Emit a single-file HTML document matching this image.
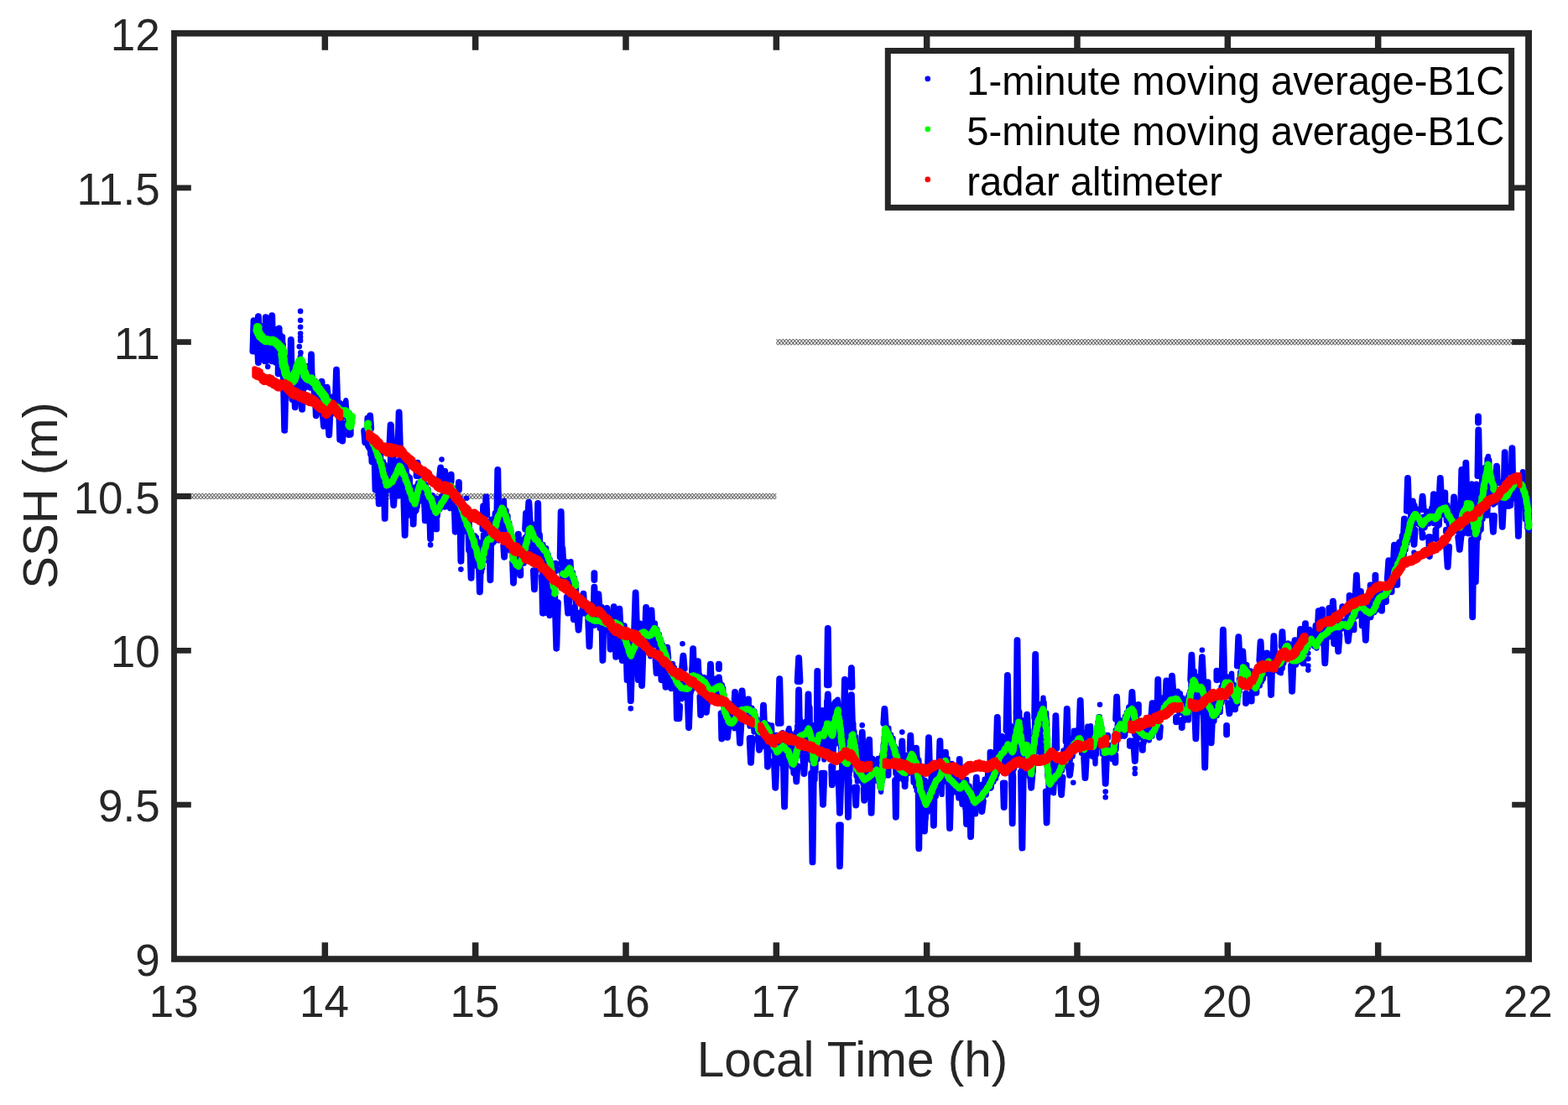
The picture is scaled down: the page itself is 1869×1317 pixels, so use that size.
<!DOCTYPE html>
<html><head><meta charset="utf-8"><title>SSH vs Local Time</title>
<style>html,body{margin:0;padding:0;background:#fff;overflow:hidden}svg{display:block}</style></head>
<body>
<svg width="1869" height="1317" viewBox="0 0 1869 1317" font-family="'Liberation Sans', sans-serif">
<defs><pattern id="hp" width="4" height="4.8" patternUnits="userSpaceOnUse" patternTransform="translate(925.33 404.07)"><path d="M-1 -1.2L5 6M5 -1.2L-1 6" stroke="#303030" stroke-width="0.9" fill="none"/></pattern><pattern id="hp2" width="4" height="4.8" patternUnits="userSpaceOnUse" patternTransform="translate(925.33 587.90)"><path d="M-1 -1.2L5 6M5 -1.2L-1 6" stroke="#303030" stroke-width="0.9" fill="none"/></pattern></defs>
<rect width="1869" height="1317" fill="#fff"/>
<rect x="208.0" y="587.9" width="717.3" height="7.2" fill="url(#hp2)"/>
<rect x="925.3" y="404.1" width="896.7" height="7.2" fill="url(#hp)"/>
<path d="M387.33 1143.0v-19.8M387.33 40.0v19.8M566.67 1143.0v-19.8M566.67 40.0v19.8M746.00 1143.0v-19.8M746.00 40.0v19.8M925.33 1143.0v-19.8M925.33 40.0v19.8M1104.67 1143.0v-19.8M1104.67 40.0v19.8M1284.00 1143.0v-19.8M1284.00 40.0v19.8M1463.33 1143.0v-19.8M1463.33 40.0v19.8M1642.67 1143.0v-19.8M1642.67 40.0v19.8" stroke="#262626" stroke-width="7.5" stroke-linecap="butt" fill="none"/>
<path d="M208.0 959.17h19.8M1822.0 959.17h-19.8M208.0 775.33h19.8M1822.0 775.33h-19.8M208.0 591.50h19.8M1822.0 591.50h-19.8M208.0 407.67h19.8M1822.0 407.67h-19.8M208.0 223.83h19.8M1822.0 223.83h-19.8" stroke="#262626" stroke-width="6.9" stroke-linecap="butt" fill="none"/>
<path fill-rule="evenodd" fill="#262626" d="M204.1 35.9H1826V1146.8H204.1ZM210.9 43.5V1139.2H1818.1V43.5Z"/>
<g font-size="53" fill="#262626" text-anchor="middle">
<text x="207.2" y="1212.4">13</text>
<text x="386.5" y="1212.4">14</text>
<text x="565.9" y="1212.4">15</text>
<text x="745.2" y="1212.4">16</text>
<text x="924.5" y="1212.4">17</text>
<text x="1103.9" y="1212.4">18</text>
<text x="1283.2" y="1212.4">19</text>
<text x="1462.5" y="1212.4">20</text>
<text x="1641.9" y="1212.4">21</text>
<text x="1821.2" y="1212.4">22</text>
</g>
<g font-size="53" fill="#262626" text-anchor="end">
<text x="190.8" y="1163.0">9</text>
<text x="190.8" y="979.2">9.5</text>
<text x="190.8" y="795.3">10</text>
<text x="190.8" y="611.5">10.5</text>
<text x="190.8" y="427.7">11</text>
<text x="190.8" y="243.8">11.5</text>
<text x="190.8" y="60.0">12</text>
</g>
<text x="1016" y="1283" font-size="58.5" fill="#262626" text-anchor="middle">Local Time (h)</text>
<text transform="translate(67.6 590.4) rotate(-90)" font-size="58.1" fill="#262626" text-anchor="middle">SSH (m)</text>
<path d="M305.9 382.9L306.6 403.6L307.3 382.7L308.0 411.9L309.5 388.7L311.8 413.4L314.1 387.9L316.9 416.4L320.0 396.4L323.2 422.1L326.1 395.8L328.9 426.7L331.7 399.2L333.4 434.6L335.0 399.6L336.7 432.5L337.0 401.3L337.4 441.1L337.7 410.3L338.0 443.1L338.3 417.6L339.0 450.2L339.9 425.6L340.8 452.2L341.7 429.2L343.6 470.2L345.6 424.6L347.6 476.5L349.1 447.1L350.3 478.1L351.4 435.7L352.6 473.6L353.7 436.9L354.8 451.5L355.8 431.2L356.8 462.4L357.8 425.3L358.6 457.6L359.4 429.7L360.2 456.0L360.9 435.9L361.7 465.6L363.1 440.9L364.7 462.0L366.5 442.6L369.7 462.5L372.4 446.9L374.2 470.5L375.9 453.6L377.7 472.6L379.6 456.5L381.6 485.6L383.6 464.3L385.5 480.3L387.0 465.9L388.6 488.2L390.1 474.0L392.7 488.6L395.3 475.1L397.9 493.1L400.7 479.3L403.4 494.6L406.1 480.5L409.1 497.4L412.3 477.2L414.7 510.3L416.6 491.9L418.5 517.7L418.2 497.7L417.9 518.5L417.0 502.7L415.2 518.7M437.5 499.3L437.9 531.1L438.3 505.7L439.3 533.8L440.3 511.8L441.3 541.7L442.3 517.8L443.3 542.1L444.6 519.9L445.8 548.8L447.1 528.7L448.3 547.8L449.5 526.9L450.6 556.7L451.7 536.7L452.8 559.0L453.8 536.1L454.6 565.8L455.3 549.8L456.1 568.9L456.9 550.3L457.7 576.6L458.8 553.6L459.9 585.9L460.9 564.4L462.4 584.7L465.0 553.9L467.5 582.9L469.2 541.5L470.5 580.1L471.8 550.4L473.0 581.2L474.4 549.5L475.8 570.7L477.2 541.9L478.5 570.2L479.7 545.6L481.0 586.2L482.2 557.1L483.3 587.9L484.4 553.7L485.6 588.5L486.7 567.1L487.7 594.1L488.7 569.1L489.7 607.0L490.7 583.8L491.8 604.6L493.5 580.6L495.2 609.9L495.8 586.6L496.4 608.7L497.1 578.8L497.7 603.9L498.3 575.4L499.4 598.1L500.6 574.2L501.7 596.7L503.7 573.5L505.7 603.4L507.7 577.4L509.3 598.4L510.5 583.1L511.8 612.2L513.0 590.0L514.3 615.4L515.6 590.3L516.8 610.7L518.1 594.3L519.2 614.2L520.2 593.8L521.6 615.4L523.1 597.1L524.5 607.2L526.1 591.4L527.9 604.0L529.6 585.2L531.4 602.2L532.7 579.7L533.8 592.3L535.0 576.6L536.1 591.2L537.3 575.3L538.9 592.3L540.4 580.9L542.0 606.1L543.5 583.5L545.1 613.1L546.3 592.3L547.4 610.3L548.6 593.7L549.7 616.1L550.9 601.0L552.0 626.6L553.2 604.7L554.2 633.5L555.2 611.5L556.2 634.1L557.3 618.5L558.3 655.9L559.5 619.3L560.7 655.7L562.0 634.2L563.2 654.1L564.2 638.7L565.2 661.4L566.1 638.4L567.0 667.3L567.9 640.5L568.8 675.3L569.8 645.5L570.7 679.5L571.6 655.1L572.5 680.4L573.4 650.2L574.1 681.8L574.7 650.0L575.4 676.9L576.0 637.3L576.6 668.2L577.3 638.2L578.0 668.2L578.7 631.1L579.4 656.3L580.1 624.6L582.5 650.9L585.4 618.6L586.5 649.0L587.7 619.8L588.8 646.3L589.8 611.6L590.7 635.7L591.6 609.7L592.5 631.1L593.4 607.7L594.6 644.4L595.9 604.4L597.2 638.6L598.4 601.3L599.7 627.8L600.9 596.6L602.2 631.0L603.5 608.2L604.4 649.5L605.4 614.7L606.3 640.4L607.2 623.2L608.1 656.4L608.9 630.9L609.5 654.0L610.2 637.2L610.8 664.9L611.4 643.4L612.0 665.4L612.0 649.8L612.0 672.4L612.0 653.1L612.0 674.3L612.0 657.3L613.4 674.6L615.1 652.6L616.7 678.9L618.4 657.9L620.0 675.9L621.7 643.4L622.7 668.5L623.7 651.2L624.6 671.6L625.5 640.7L626.4 662.7L627.3 638.9L628.0 653.8L628.7 633.2L629.4 656.0L630.1 629.0L630.9 646.1L631.6 621.0L632.5 648.8L633.6 623.5L634.7 665.1L635.8 624.9L637.0 671.7L639.1 635.8L641.4 666.9L643.7 637.2L645.5 681.2L647.4 649.0L649.3 685.4L651.1 653.1L652.5 691.8L653.6 660.8L654.6 693.0L655.6 666.5L656.6 700.4L657.3 671.8L657.7 706.7L658.1 671.4L658.6 704.5L659.0 678.9L659.4 712.4L659.8 680.5L660.2 716.0L660.7 686.9L661.3 720.3L661.8 696.1L662.1 722.7M437.7 497.9L438.5 531.9L439.3 504.1L439.4 532.0M668.7 677.7L671.8 699.8L674.3 676.8L676.0 702.8L677.6 671.8L679.1 690.7L680.4 669.2L681.7 698.6L682.9 682.2L684.1 700.9L684.9 688.7L685.8 719.3L686.7 694.9L687.1 714.6M700.0 724.9L702.7 742.0L705.4 725.0L708.4 745.9L711.6 728.5L714.7 749.1L717.7 723.3L720.8 750.5L723.8 733.9L727.0 754.6L730.1 735.6L733.3 754.3L735.9 735.5L738.4 768.0L740.4 742.4L741.5 773.7L742.5 745.7L743.5 778.9L744.5 745.4L745.5 773.1L746.5 755.7L747.5 787.2L748.5 757.0L749.5 793.4L750.6 765.8L751.6 792.4L752.7 769.2L753.9 792.7L755.1 767.9L756.5 788.0L758.0 755.9L759.3 790.5L760.5 754.7L761.8 783.5L763.1 742.7L765.6 768.7L768.6 746.2L770.8 767.4L773.1 749.2L775.3 782.4L777.4 748.0L779.1 769.2L780.8 742.6L782.1 768.9L783.3 750.0L784.5 774.7L785.7 755.7L786.7 784.3L787.7 762.1L788.7 786.4L789.9 768.1L791.1 798.5L792.2 774.0L793.2 804.8L794.3 780.1L795.3 810.1L796.3 786.2L797.3 806.8L798.3 792.2L799.6 809.0L801.1 794.4L802.5 815.1L803.9 795.7L805.4 819.0L806.8 802.5L808.7 829.5L810.6 808.8L813.0 833.2L816.1 807.3L819.3 831.4L821.0 810.6L822.2 826.1L823.4 806.5L824.1 824.5L824.7 796.6L825.9 821.2L828.9 799.0L831.8 819.8L834.6 804.6L837.2 822.9L839.7 807.1L841.7 825.1L843.4 808.2L845.2 827.7L847.0 814.8L849.9 836.1L852.8 808.7L855.5 831.7L858.2 811.0L859.6 828.1L860.8 816.1L861.9 840.8L862.2 820.3L862.4 841.5L862.7 828.4L862.9 849.9L863.2 827.6L863.4 852.9L863.9 837.6L865.0 855.8L866.1 840.0L867.2 863.8L868.4 837.4L870.9 865.7L873.8 847.5L875.4 868.3L876.9 844.2L878.5 858.6L880.0 838.9L881.6 862.6L884.3 841.6L887.4 853.4L890.6 840.8L893.6 865.5L896.5 843.7L898.6 872.5L899.3 847.4L900.0 869.8L900.7 852.4L901.4 872.5L902.4 857.0L903.6 884.2L904.9 866.1L906.1 891.2L907.1 865.8L908.2 890.4L909.3 859.8L910.6 880.6L912.4 861.2L914.1 886.3L915.9 863.5L917.2 884.3L918.1 864.4L919.1 894.2L920.0 864.5L920.9 894.1L921.9 879.5L923.5 903.3L925.2 876.0L926.9 907.0L928.9 878.3L930.9 910.0L932.8 873.2L934.8 914.7L936.8 882.7L938.8 907.2L940.5 868.0L941.5 909.1L942.5 874.0L943.5 914.1L944.5 892.3L945.6 921.7L946.8 878.9L948.0 911.9L948.9 872.5L949.6 902.6L950.2 865.3L950.9 899.6L951.6 859.0L952.1 893.4L952.6 852.7L953.0 890.7L953.8 857.3L956.9 893.2L960.0 859.9L961.8 888.2L963.5 844.8L964.7 896.7L965.5 843.1L966.2 906.2L967.0 864.6L967.8 908.0L968.5 864.0L968.7 918.8L968.9 870.6L969.1 923.2L969.3 872.9L969.6 927.8L969.8 886.4L970.0 927.7L970.3 888.7L970.7 924.9L971.1 873.4L971.5 929.2L971.9 874.8L972.4 919.6L972.8 867.5L973.2 901.3L973.9 853.9L974.9 905.0L975.9 850.9L977.1 898.9L980.1 846.2L982.3 905.4L983.3 854.6L984.3 891.2L985.3 836.3L986.3 885.7L987.3 840.9L988.3 894.2L989.4 857.9L990.4 902.4L991.4 852.3L992.2 897.7L992.9 860.2L993.6 898.8L994.3 841.7L995.0 887.8L995.7 836.2L996.4 884.4L997.1 835.1L997.8 874.4L998.5 833.6L999.0 879.7L999.4 837.3L999.9 879.2L1000.4 841.3L1000.9 886.7L1001.4 852.0L1001.9 890.3L1002.1 857.3L1002.4 897.4L1002.6 862.8L1002.8 909.6L1003.1 862.0L1003.3 917.7L1003.7 868.7L1004.2 924.1L1004.8 875.3L1005.4 916.7L1006.0 873.6L1006.5 927.1L1008.1 879.1L1010.3 932.5L1010.9 891.7L1011.4 927.0L1011.9 869.8L1012.4 925.9L1013.0 866.8L1013.5 918.8L1014.0 867.4L1014.5 904.6L1015.1 864.6L1015.6 892.1L1016.1 857.7L1016.7 899.7L1017.3 862.1L1017.8 909.9L1018.4 871.7L1019.0 907.4L1019.5 880.5L1019.8 909.8L1020.2 878.0L1020.5 924.8L1020.9 886.8L1021.2 924.8L1021.5 899.1L1021.9 931.5L1023.6 895.6L1025.3 930.7L1026.9 900.0L1028.6 934.5L1030.4 918.3L1033.0 936.8L1035.5 908.9L1037.9 939.3L1040.2 903.9L1042.5 930.7L1044.7 907.4L1045.8 929.2L1046.5 903.9L1047.2 932.2L1048.0 903.8L1048.7 938.7L1049.4 909.5L1050.1 943.8L1050.4 919.8L1050.7 937.2L1050.9 915.0L1051.1 932.4L1051.4 899.1L1051.6 931.1L1051.8 907.7L1052.0 924.7L1052.3 898.3L1052.5 927.2L1052.7 887.6L1052.9 908.0L1053.2 884.9L1053.4 901.9L1053.6 882.2L1053.9 918.1L1054.1 877.0L1054.3 911.7L1054.5 871.4L1054.8 894.6L1055.0 867.7L1055.2 896.1L1056.5 864.4L1057.9 899.9L1059.3 867.8L1060.8 909.4L1062.1 875.8L1063.3 909.2L1064.4 879.9L1065.5 910.3L1066.6 889.5L1067.5 922.1L1068.2 892.1L1068.9 931.3L1069.6 902.6L1070.3 927.2L1071.1 908.8L1071.8 928.1L1073.9 909.3L1076.5 929.5L1078.8 909.9L1079.8 929.6L1080.8 899.8L1081.8 922.3L1082.8 903.7L1083.9 921.4L1085.1 895.2L1086.3 919.4L1087.5 892.7L1088.7 932.6L1090.0 899.7L1091.3 937.6L1092.2 906.9L1092.7 942.4L1093.3 903.7L1093.8 935.3L1094.3 915.0L1094.8 947.6L1095.4 906.0L1095.9 951.7L1096.4 922.1L1096.9 959.1L1098.0 924.5L1099.1 958.8L1100.2 929.0L1101.3 971.3L1102.4 929.6L1103.5 975.7L1104.7 944.9L1106.0 967.9L1107.3 931.7L1108.6 960.8L1109.9 920.0L1111.1 957.9L1112.2 917.7L1113.3 952.5L1114.5 913.0L1115.9 948.9L1118.6 913.5L1120.7 935.8L1121.7 912.8L1122.7 946.9L1123.7 908.0L1124.7 932.1L1125.8 906.6L1126.8 923.9L1127.4 903.8L1128.0 929.9L1128.5 906.7L1129.0 931.5L1129.5 904.0L1130.1 932.9L1131.2 911.1L1133.5 937.5L1135.8 920.9L1138.0 944.4L1140.3 926.0L1142.5 951.4L1144.6 932.3L1146.6 958.7L1148.5 929.9L1150.3 962.8L1152.1 928.9L1153.8 954.9L1155.6 936.6L1157.0 964.0L1158.4 945.6L1159.9 967.3L1161.3 948.4L1163.1 970.4L1165.4 949.6L1167.6 959.4L1169.9 934.9L1171.8 952.7L1173.7 928.6L1175.6 947.6L1177.4 918.8L1179.1 940.1L1180.5 917.5L1181.8 938.3L1183.1 917.6L1184.4 931.7L1185.8 906.7L1187.1 928.0L1187.8 885.5L1188.5 923.3L1189.2 889.6L1189.9 912.8L1190.8 882.0L1192.7 918.5L1194.6 877.2L1196.4 921.3L1198.1 880.2L1199.8 908.4L1201.5 857.2L1202.9 919.3L1204.4 864.5L1205.8 925.1L1206.9 866.9L1207.6 922.6L1208.3 870.4L1209.0 916.3L1209.6 866.6L1210.3 909.7L1211.0 846.9L1211.6 903.8L1212.2 840.6L1212.8 892.2L1213.4 836.5L1214.0 891.2L1214.5 847.8L1214.9 895.4L1215.3 848.4L1215.7 901.7L1216.1 860.6L1216.5 906.0L1216.9 857.3L1217.6 914.4L1218.2 861.5L1218.8 920.7L1219.4 864.7L1220.1 926.8L1221.1 863.7L1222.1 918.0L1223.1 857.7L1223.8 916.8L1224.3 862.3L1224.8 921.8L1225.3 868.6L1225.9 921.3L1226.4 882.2L1226.9 925.4L1227.5 888.0L1228.0 923.0L1228.5 894.0L1229.0 931.0L1229.4 900.5L1229.7 927.8L1230.1 883.5L1230.4 922.1L1230.7 878.9L1231.0 927.9L1231.3 887.9L1231.7 920.2L1232.0 880.8L1232.3 907.1L1232.6 869.9L1232.9 899.6L1233.2 855.7L1233.7 893.8L1234.4 857.6L1235.1 889.4L1235.8 857.9L1236.4 896.0L1237.1 848.0L1237.8 881.4L1238.5 844.5L1239.7 883.7L1241.0 838.6L1242.3 877.8L1243.5 831.6L1244.0 878.5L1244.6 837.3L1245.2 877.7L1245.8 850.1L1246.3 882.7L1246.8 849.9L1247.0 897.4L1247.2 849.6L1247.4 901.5L1247.7 856.6L1247.9 902.3L1248.1 860.8L1248.3 907.9L1248.4 881.2L1248.4 918.1L1248.4 883.0L1248.4 919.6L1248.4 888.0L1248.4 915.4L1248.4 895.9L1248.4 925.3L1248.6 900.4L1249.0 927.8L1249.4 903.5L1249.7 939.1L1250.1 909.6L1250.5 944.7L1250.8 919.5L1252.3 941.9L1254.1 908.7L1256.0 945.4L1258.0 912.0L1260.3 931.6L1262.2 906.1L1263.5 923.5L1264.7 901.6L1266.0 918.5L1267.5 894.4L1269.2 912.3L1271.0 889.2L1272.8 914.2L1274.3 879.7L1275.8 906.0L1277.2 882.6L1278.6 901.6L1280.1 870.6L1282.3 891.9L1284.6 869.4L1286.8 891.0L1287.9 870.6L1289.1 897.9L1290.2 872.4L1291.3 899.1L1292.8 874.2L1294.6 903.5L1296.3 865.8L1298.1 900.1L1300.0 865.3L1301.9 901.9L1303.6 885.6L1304.3 903.0L1304.9 879.4L1305.5 910.2L1306.1 873.1L1306.8 899.6L1307.3 866.8L1307.9 882.8L1308.5 860.5L1309.1 879.0L1309.6 854.2L1310.2 879.9L1310.8 854.3L1311.5 885.9L1312.1 860.6L1312.7 890.9L1313.3 866.9L1313.8 898.8L1314.2 873.2L1314.7 893.5L1315.1 879.5L1315.5 895.9L1315.9 885.9L1316.4 906.6L1316.8 892.2L1319.3 905.2L1322.3 888.0L1325.4 905.0L1327.1 885.4L1327.6 901.9L1328.0 876.1L1328.5 897.8L1328.9 877.0L1329.4 887.0L1329.8 870.1L1330.4 893.6L1331.8 862.6L1333.3 876.3L1334.7 857.9L1336.4 877.9L1338.4 858.6L1340.3 877.8L1340.8 854.3L1341.3 876.5L1341.8 853.1L1342.4 870.8L1342.9 849.3L1343.4 866.7L1345.3 842.7L1347.9 859.5L1350.3 841.3L1351.0 872.1L1351.7 847.3L1352.4 875.8L1353.1 853.8L1353.9 877.3L1354.9 854.2L1355.9 875.4L1356.9 862.7L1359.1 879.4L1361.4 864.5L1363.6 885.7L1366.7 857.4L1369.8 882.4L1371.8 857.1L1373.6 877.6L1375.4 861.3L1377.1 872.2L1378.3 839.9L1379.5 866.3L1380.6 841.1L1381.8 860.3L1383.0 838.7L1384.4 854.5L1386.0 831.5L1387.6 848.9L1389.2 833.6L1390.9 850.5L1393.2 824.9L1395.5 845.7L1398.0 827.5L1401.2 843.1L1404.0 823.7L1405.4 850.2L1406.9 826.5L1408.3 849.7L1409.7 831.7L1411.9 859.1L1414.5 839.1L1415.7 853.8L1416.2 830.1L1416.8 858.4L1417.3 827.1L1417.8 846.3L1418.4 823.6L1418.9 839.0L1419.6 809.0L1420.2 841.0L1420.9 810.2L1421.5 830.8L1422.2 806.9L1422.8 835.1L1423.9 799.9L1425.0 845.6L1426.0 805.9L1427.2 833.5L1429.9 808.7L1432.2 849.0L1433.1 810.8L1434.1 839.2L1435.0 818.7L1435.9 861.2L1436.8 821.5L1438.3 854.2L1439.9 827.0L1441.6 860.7L1443.1 827.2L1444.5 857.1L1445.9 834.2L1447.4 859.7L1449.0 828.3L1450.7 852.9L1452.2 831.9L1453.1 847.8L1453.9 823.2L1454.7 848.9L1455.6 818.7L1456.4 837.7L1457.3 810.8L1458.0 833.9L1458.8 809.3L1459.6 832.8L1460.4 806.0L1463.3 823.5L1465.8 806.5L1466.9 831.2L1468.1 802.7L1469.2 835.3L1470.3 815.7L1471.5 835.7L1472.7 819.4L1473.8 840.4L1474.5 823.4L1475.1 838.8L1475.7 818.4L1476.3 829.8L1477.0 809.5L1477.6 824.0L1478.2 801.3L1478.9 819.6L1479.6 797.2L1480.2 814.0L1480.9 791.8L1481.6 813.1L1482.6 788.1L1484.4 808.4L1486.2 792.2L1487.5 815.9L1488.6 799.3L1489.7 819.6L1490.8 799.4L1492.2 822.2L1494.5 803.3L1496.7 824.2L1498.0 801.9L1499.3 818.3L1500.5 798.3L1501.8 817.4L1502.9 800.9L1504.0 812.3L1505.2 787.9L1506.3 801.6L1507.9 785.4L1509.8 803.0L1511.7 783.5L1513.4 796.1L1515.0 781.7L1516.7 802.6L1519.3 779.2L1521.9 799.1L1524.6 784.9L1526.9 802.3L1527.8 780.5L1528.6 796.8L1529.4 771.7L1530.3 790.6L1531.1 768.3L1532.4 780.5L1535.2 766.4L1536.1 785.9L1537.0 767.4L1537.9 785.4L1538.8 772.5L1539.8 789.8L1542.0 767.5L1545.0 792.5L1547.6 773.7L1550.2 788.8L1552.3 773.6L1553.5 785.6L1554.8 767.9L1556.0 777.7L1557.5 762.7L1559.3 772.2L1561.1 750.0L1562.8 766.8L1564.5 753.5L1566.2 770.3L1567.8 745.2L1569.3 772.6L1570.8 742.2L1572.2 766.8L1573.7 745.7L1576.4 762.9L1579.0 743.1L1581.2 761.4L1583.5 744.8L1585.8 759.3L1588.5 738.8L1591.6 757.5L1594.8 736.5L1597.7 751.3L1600.5 739.9L1603.3 749.4L1605.9 734.1L1607.8 749.0L1609.2 726.5L1610.7 743.3L1612.1 724.3L1613.3 738.1L1614.6 721.7L1615.9 735.3L1617.4 720.5L1620.0 734.1L1622.6 712.4L1624.8 731.1L1627.1 719.9L1629.4 735.8L1631.6 716.0L1634.2 736.1L1636.9 716.0L1638.2 730.0L1639.4 710.4L1640.7 727.4L1642.0 702.1L1643.9 718.2L1645.8 698.6L1648.2 713.7L1651.2 700.3L1653.0 710.3L1654.5 689.4L1655.9 704.6L1657.2 687.8L1658.2 702.1L1659.3 681.0L1660.3 698.2L1661.3 669.0L1662.4 687.5L1663.6 665.9L1664.8 681.5L1666.0 649.5L1667.2 676.9L1668.4 645.5L1669.7 670.1L1670.9 638.5L1672.1 664.0L1673.0 631.2L1673.8 660.9L1674.7 633.7L1675.5 655.3L1676.3 631.4L1677.2 647.9L1678.0 627.9L1678.7 644.2L1679.5 622.0L1680.3 636.7L1681.1 614.2L1681.8 629.5L1683.1 610.3L1684.7 627.5L1686.4 602.2L1688.0 623.8L1689.7 606.6L1691.3 625.0L1693.0 616.8L1694.8 636.6L1696.7 615.6L1698.6 629.0L1700.5 609.3L1703.3 624.4L1706.2 605.6L1708.9 624.0L1711.6 610.6L1713.2 627.8L1714.5 603.5L1715.7 625.8L1717.0 599.1L1719.6 613.4L1722.4 600.8L1723.9 620.8L1725.3 601.9L1726.7 625.4L1728.3 605.9L1730.0 631.0L1731.6 606.0L1733.9 633.2L1736.6 614.1L1739.4 637.7L1741.0 603.8L1741.6 642.2L1742.2 601.7L1742.9 635.7L1743.5 601.8L1744.2 636.1L1745.5 594.3L1746.8 635.4L1748.0 588.4L1749.8 616.7L1753.0 585.2L1753.6 627.1L1754.2 576.4L1754.7 623.3L1755.2 586.4L1755.7 632.7L1756.2 591.3L1756.7 639.8L1757.2 597.5L1757.7 644.9L1758.2 601.6L1758.7 649.4L1759.2 605.9L1759.8 644.4L1760.4 607.3L1761.1 636.9L1761.7 602.3L1762.3 641.6L1763.0 597.8L1763.6 634.0L1764.2 580.8L1764.6 627.5L1765.1 585.6L1765.6 631.3L1766.1 572.2L1766.5 611.4L1767.0 571.1L1767.5 618.7L1768.0 573.4L1768.4 609.8L1768.9 569.5L1769.5 594.0L1770.1 556.7L1770.8 591.5L1771.4 556.9L1772.0 586.4L1772.6 547.0L1773.3 585.8L1773.9 543.9L1774.5 572.1L1775.2 548.2L1775.8 583.2L1776.4 561.4L1777.0 588.3L1777.7 567.7L1778.5 594.4L1779.3 573.7L1780.1 601.5L1781.1 571.9L1783.4 599.3L1785.7 583.4L1788.1 597.5L1790.9 573.5L1793.8 601.0L1795.7 578.5L1797.4 597.0L1799.2 577.9L1801.0 602.6L1802.8 570.5L1804.5 594.2L1806.3 566.5L1808.5 593.1L1811.4 568.9L1814.1 602.3L1815.1 562.1L1816.2 602.8L1817.2 582.1L1817.9 619.2L1818.5 588.4L1819.1 618.5L1819.8 591.8L1820.4 629.4L1820.8 597.4L1821.0 624.8L1821.2 602.4L1821.4 623.0L1821.6 594.9L1821.8 628.8L1822.0 598.5L1822.2 632.3L1822.4 607.0" stroke="#0000ff" stroke-width="6.4" stroke-linecap="round" stroke-linejoin="round" fill="none"/>
<path d="M302.5 382.3L303.7 418.6H301.4ZM307.9 377.3L308.6 412.4L307.9 432.0L307.1 412.4ZM316.7 378.2L317.6 430.3H315.8ZM324.2 376.2L325.0 405.9L324.2 430.3L323.5 405.9ZM328.7 393.2L329.3 408.4L328.7 432.0L328.1 408.4ZM332.6 391.5L333.5 445.3H331.6ZM339.2 429.9L340.7 446.8L339.2 512.9L337.8 446.8ZM346.8 404.9L347.6 450.3H345.9ZM351.8 485.4L352.8 463.3H350.7ZM360.1 487.9L361.1 463.3H359.1ZM367.1 436.6L368.2 451.1L367.1 460.3L366.0 451.1ZM371.0 422.4L371.8 457.0H370.1ZM376.8 495.4L377.5 480.0H376.2ZM383.5 454.6L384.4 477.0H382.6ZM386.0 507.9L387.6 490.0H384.4ZM389.7 461.6L390.8 473.7H388.5ZM392.2 518.4L393.2 496.7H391.1ZM396.8 473.3V483.7M401.0 440.8L402.3 483.7H399.7ZM405.2 523.8L405.9 496.7H404.4ZM408.2 525.5L409.4 505.0H407.0ZM435.2 527.1L436.3 513.4H434.1ZM435.9 519.8V526.9M441.1 495.5L442.2 510.4H440.0ZM441.7 503.1V506.9M443.4 550.3L444.0 533.2H442.8ZM447.5 583.7L448.6 544.9H446.5ZM451.7 600.3L452.5 569.9H450.9ZM458.7 617.9L459.4 578.3H458.0ZM465.6 506.4L466.9 532.1H464.3ZM465.9 506.8L467.1 530.2H464.8ZM465.9 544.9L466.9 580.3H464.9ZM469.2 602.0L470.6 578.3H467.9ZM475.1 549.9L476.6 558.4L475.1 590.3L473.6 558.4ZM475.6 503.1L476.6 528.6H474.6ZM475.6 491.4L476.8 530.5H474.5ZM482.6 637.9L484.1 586.6H481.1ZM486.8 613.7L487.6 569.9H485.9ZM492.6 624.6L493.7 586.6H491.6ZM497.6 551.6L498.7 567.0H496.5ZM506.8 620.4L507.8 586.6H505.8ZM513.1 642.1L514.3 603.3H512.0ZM520.2 620.0V630.4M525.2 557.4L526.6 572.0H523.7ZM530.2 561.6V572.0M530.2 600.0V603.7M536.9 596.6V605.4M537.7 565.8V573.6M542.7 633.7L543.6 603.3H541.8ZM546.9 574.9V583.7M549.4 668.8L550.2 620.0H548.5ZM561.6 688.8L562.7 653.4H560.4ZM571.9 705.5L572.7 678.4H571.1ZM576.1 603.3L576.8 630.4H575.4ZM579.4 592.5L580.3 613.7H578.6ZM584.4 691.3L585.1 653.4H583.7ZM593.3 559.9L594.2 613.7H592.4ZM601.1 663.8L602.1 650.1H600.2ZM612.0 694.7L612.9 670.1H611.1ZM617.8 636.7V647.1M620.3 678.4V685.5M627.0 611.7L627.9 630.4H626.1ZM630.3 598.6L631.8 623.7H628.8ZM637.0 702.2L638.1 680.1H635.9ZM641.2 600.0L641.8 640.4H640.6ZM647.0 730.6L648.1 686.8H646.0ZM647.6 730.8L648.3 693.2H647.0ZM653.7 730.6L654.6 695.1H652.8ZM655.2 733.3L656.7 712.0H653.6ZM662.1 671.8V680.5M663.3 772.7L664.9 718.3H661.7ZM668.7 610.0L669.8 663.8H667.7ZM670.4 653.4L671.3 672.1H669.5ZM675.4 670.1V677.1M677.1 709.5V718.2M677.1 730.6L678.5 711.8H675.7ZM683.9 738.3L685.1 724.5H682.8ZM689.6 750.8L691.0 730.8H688.1ZM695.4 707.6L696.5 730.6H694.4ZM702.5 770.3L704.0 733.2H701.0ZM708.4 683.1V691.0M708.4 699.8L709.0 726.9H707.7ZM713.4 708.2L714.6 726.9H712.1ZM718.4 787.0L719.1 749.9H717.7ZM723.4 724.9V731.9M727.6 733.2L728.3 745.9L727.6 773.7L726.8 745.9ZM731.7 723.2L733.0 740.3H730.5ZM734.2 782.9L735.0 758.3H733.5ZM738.4 725.7L739.1 740.3H737.7ZM741.7 787.0L743.1 763.3H740.4ZM747.6 810.4L748.9 766.6H746.3ZM751.8 835.4L753.2 791.7H750.3ZM757.6 706.5L759.1 752.0H756.1ZM760.9 810.4L762.3 775.0H759.6ZM765.1 817.1L766.5 775.0H763.7ZM770.1 724.0L771.0 748.6H769.2ZM776.5 727.4L777.5 750.3H775.4ZM782.6 802.1L783.8 786.6H781.5ZM788.5 810.4L789.5 791.7H787.5ZM793.5 818.7L794.6 800.0H792.4ZM795.2 771.6L796.3 783.7H794.1ZM800.2 820.4L801.3 791.7H799.1ZM806.9 856.3L807.5 825.0H806.2ZM809.4 856.3L810.1 841.7H808.6ZM814.4 781.6L815.7 797.0H813.0ZM821.0 867.2L822.5 826.7H819.6ZM826.1 773.3L826.9 800.4H825.2ZM831.9 788.3L832.6 803.7H831.2ZM835.2 852.1L836.1 830.1H834.4ZM841.9 848.8L843.4 833.4H840.4ZM846.9 791.7L848.0 818.7H845.9ZM856.9 791.7V797.0M856.9 807.5V813.7M860.3 880.5L861.0 850.1H859.6ZM867.0 878.8L868.3 866.8H865.6ZM876.1 825.0L876.9 840.4H875.4ZM882.0 885.5L883.3 863.4H880.7ZM884.5 823.4L886.1 843.8H882.9ZM892.0 833.4V840.4M895.0 908.7L896.4 879.9H893.6ZM905.0 893.7L906.0 879.9H904.0ZM910.0 840.7L910.7 856.9H909.4ZM915.0 913.7L915.9 888.3H914.2ZM924.2 938.7L925.7 906.6H922.8ZM929.2 809.1L930.6 861.9H927.8ZM935.1 961.3L936.2 913.3H933.9ZM940.1 870.7V873.6M949.3 931.2L950.3 913.3H948.2ZM952.1 784.1L953.5 812.0H950.7ZM952.1 822.5L952.8 860.4H951.4ZM958.4 922.0L959.9 896.6H956.9ZM963.5 827.5L964.1 863.6H962.8ZM968.5 1027.4L969.8 921.7H967.1ZM974.3 800.0L974.9 873.6H973.7ZM981.0 958.8L982.4 921.7H979.5ZM986.8 749.0L987.7 816.2H985.9ZM986.8 827.5L988.0 853.6H985.7ZM991.8 935.4L992.5 913.3H991.2ZM995.2 838.2V845.2M1001.0 968.8L1002.6 921.7H999.4ZM1001.0 1032.4L1001.9 983.4H1000.1ZM1006.9 810.0L1008.3 882.0H1005.4ZM1011.0 973.8L1011.8 930.0H1010.3ZM1014.9 796.3L1015.5 818.7H1014.2ZM1014.9 828.3L1016.1 868.6H1013.6ZM1020.2 959.6L1021.1 938.4H1019.3ZM1027.7 872.6L1029.0 910.3H1026.4ZM1030.2 953.8L1030.9 940.0H1029.6ZM1036.1 881.6L1036.8 907.0H1035.3ZM1038.6 968.8L1039.5 933.3H1037.7ZM1054.4 844.9L1055.5 861.9H1053.3ZM1058.6 913.3V923.7M1067.8 973.8L1068.5 930.0H1067.1ZM1075.3 883.4L1076.0 913.7H1074.6ZM1078.6 930.0V937.1M1085.3 876.6L1086.0 893.7H1084.7ZM1092.0 891.6L1093.1 907.0H1090.8ZM1095.3 1011.3L1096.0 946.7H1094.7ZM1102.0 990.5L1103.1 963.4H1100.9ZM1107.0 879.1L1107.9 910.3H1106.1ZM1112.9 983.8L1113.5 946.7H1112.2ZM1120.4 883.3L1121.0 905.3H1119.7ZM1127.0 896.6V900.3M1132.1 987.1L1133.4 933.3H1130.7ZM1143.7 905.0V913.7M1152.1 982.1L1153.3 946.7H1150.9ZM1157.1 997.2L1157.8 963.4H1156.4ZM1163.8 926.7L1164.8 947.9L1163.8 957.1L1162.7 947.9ZM1170.4 967.1L1171.9 955.0H1169.0ZM1180.5 896.6V907.0M1180.5 930.0V938.7M1188.8 854.9L1190.3 907.0H1187.3ZM1196.7 962.1L1197.5 933.4H1195.8ZM1200.9 804.9L1202.2 870.3H1199.5ZM1206.7 981.3L1207.4 925.0H1206.0ZM1212.5 763.3L1213.4 850.3H1211.7ZM1218.4 1010.6L1219.8 920.0H1217.0ZM1224.2 851.6L1225.7 883.7H1222.8ZM1229.2 938.8L1230.1 926.7H1228.3ZM1234.2 780.0L1235.2 855.3H1233.2ZM1241.7 903.7L1242.7 888.3H1240.8ZM1247.6 980.5L1248.4 943.4H1246.8ZM1258.4 853.3L1259.4 892.0H1257.5ZM1265.1 947.1L1266.6 926.7H1263.7ZM1271.8 844.9L1273.0 883.7H1270.6ZM1275.1 923.8L1276.6 911.7H1273.7ZM1287.7 834.9L1288.8 870.3H1286.5ZM1293.5 927.1L1294.8 903.3H1292.2ZM1317.7 933.8L1318.9 905.0H1316.5ZM1320.2 876.6V878.7M1329.4 900.0V908.7M1331.1 830.7L1332.0 857.0H1330.1ZM1346.9 883.3V888.7M1349.4 824.9L1350.3 840.3H1348.5ZM1352.8 907.1L1354.3 883.3H1351.2ZM1356.9 839.9V850.3M1361.9 886.6V893.7M1373.6 838.2L1374.8 852.0H1372.5ZM1380.3 809.9L1381.2 850.3H1379.4ZM1382.0 878.7L1382.9 866.6H1381.0ZM1390.3 811.5L1391.2 831.9H1389.4ZM1397.0 805.7L1398.6 828.6H1395.4ZM1402.0 854.9V860.3M1408.7 858.3V867.0M1420.4 780.8L1421.5 810.2H1419.2ZM1425.4 880.3L1426.5 849.9H1424.3ZM1432.9 783.1L1434.2 810.2H1431.6ZM1436.2 914.6L1437.7 849.9H1434.7ZM1439.6 813.2V823.6M1443.7 885.4L1445.3 849.9H1442.2ZM1450.4 799.8V810.2M1457.9 750.8L1459.4 810.2H1456.5ZM1462.1 864.9V875.3M1463.8 807.4V810.2M1465.4 850.3L1466.9 838.2H1464.0ZM1472.1 838.2V845.3M1476.3 759.1L1477.7 793.5H1474.8ZM1481.3 776.5L1482.2 793.5H1480.4ZM1485.0 826.8V838.0M1491.7 826.8V835.5M1496.7 810.1L1497.5 825.5H1495.9ZM1502.6 765.0L1503.8 787.1H1501.3ZM1505.1 801.7V808.8M1510.1 778.4V783.8M1515.1 828.0L1515.8 805.1H1514.3ZM1518.4 758.3L1519.4 787.1H1517.4ZM1525.1 793.4V800.4M1528.4 753.3L1529.3 770.4H1527.6ZM1540.1 823.8L1541.3 793.4H1539.0ZM1543.5 763.3L1544.5 775.4H1542.4ZM1550.1 750.0L1550.9 767.1H1549.4ZM1553.5 785.0V790.4M1556.0 743.3V753.7M1571.8 728.3L1572.5 740.3H1571.2ZM1576.0 726.6V737.0M1579.3 790.4L1580.7 760.0H1578.0ZM1584.3 724.9V733.7M1588.9 716.6L1589.9 732.0H1587.8ZM1590.2 756.7V767.1M1595.2 776.2L1596.5 756.7H1593.9ZM1600.2 723.3V727.0M1606.9 763.7L1608.2 751.7H1605.6ZM1608.6 709.9V717.0M1613.6 743.3V750.4M1616.9 685.7L1618.1 710.3H1615.7ZM1621.9 704.9V708.6M1623.6 736.6V745.4M1627.8 762.9L1629.1 736.6H1626.4ZM1633.6 697.4V703.6M1639.4 685.7V693.6M1647.0 718.3V727.8M1652.0 714.9V717.0M1655.3 668.2L1656.8 690.3H1653.8ZM1658.6 698.2V705.3M1662.0 649.8L1663.4 678.6H1660.5ZM1665.3 689.9V696.9M1668.0 646.8L1668.8 658.8H1667.2ZM1673.9 618.4L1674.7 642.1H1673.0ZM1678.0 570.0L1679.2 608.7H1676.8ZM1683.9 597.5V608.7M1685.5 648.8L1686.6 631.7H1684.5ZM1695.6 591.7L1696.7 607.1H1694.4ZM1695.6 636.7V640.5M1703.9 663.0L1704.6 640.1H1703.2ZM1708.9 589.2L1709.8 607.1H1708.0ZM1711.4 631.7V642.1M1716.8 570.0L1718.2 598.7H1715.4ZM1722.3 587.5V598.7M1723.9 631.7V633.8M1725.6 675.5L1727.1 651.8H1724.1ZM1733.1 592.5L1734.3 613.8H1731.9ZM1739.8 654.7L1741.4 640.1H1738.2ZM1742.3 560.0L1743.5 608.7H1741.1ZM1747.3 551.6L1748.4 597.1H1746.2ZM1750.6 630.1V635.5M1755.2 735.3L1756.3 643.4H1754.0ZM1758.8 693.5L1760.1 640.1H1757.6ZM1759.8 577.5L1761.4 598.7H1758.2ZM1762.0 496.5V503.6M1762.3 512.4L1763.3 567.0H1761.4ZM1772.3 613.8L1773.8 590.0H1770.9ZM1779.9 633.8L1781.1 615.0H1778.6ZM1784.0 555.8L1784.9 575.4H1783.1ZM1790.7 627.9L1791.9 603.4H1789.5ZM1793.7 539.1L1794.4 570.3H1793.0ZM1798.2 598.4V602.9M1802.4 534.1L1803.0 563.7H1801.8ZM1809.9 638.8L1811.4 590.0H1808.5Z" stroke="#0000ff" stroke-width="7.9" stroke-linecap="round" stroke-linejoin="round" fill="#0000ff"/>
<path d="M319.2 437.1h0M356.8 413.1h0M358.1 370.9h0M358.1 381.7h0M358.1 389.7h0M358.1 397.6h0M358.1 401.7h0M358.1 405.9h0M358.4 420.4h0M513.1 649.4h0M526.5 547.6h0M549.4 678.6h0M556.1 593.8h0M751.8 844.4h0M813.5 767.3h0M1027.7 864.4h0M1075.3 872.6h0M1134.6 910.0h0M1279.3 932.7h0M1301.0 876.0h0M1311.0 839.8h0M1317.7 943.6h0M1317.7 950.3h0M1352.8 916.1h0M1352.8 921.9h0M1432.9 774.7h0M1559.3 778.6h0M1559.3 785.2h0M1559.3 793.6h0M1559.3 798.6h0M1685.5 658.6h0" stroke="#0000ff" stroke-width="6.6" stroke-linecap="round" fill="none"/>
<path d="M306.3 389.4L307.1 391.7L306.7 393.2L307.9 395.3L307.7 397.5L309.0 399.0L311.0 401.1L312.6 401.4L313.4 403.0L314.4 404.9L317.2 404.6L319.3 405.7L321.4 406.4L323.1 405.5L324.5 406.5L327.1 407.6L328.7 408.3L330.5 408.8L331.6 409.9L333.0 412.0L334.2 413.5L334.9 415.7L335.8 417.6L337.4 418.6L336.5 420.5L337.4 423.3L337.7 424.5L337.5 427.0L338.3 428.8L337.5 430.8L337.9 432.6L338.3 435.5L339.2 436.5L338.9 439.0L340.5 440.8L340.2 442.6L340.5 445.0L341.2 446.3L342.5 448.0L343.4 450.1L344.9 451.0L346.8 452.0L347.5 454.4L348.6 454.5L349.2 451.9L349.7 450.0L351.2 449.4L351.0 446.7L351.8 445.7L353.5 442.9L353.7 441.5L355.0 440.0L355.6 437.7L355.7 435.0L356.8 434.1L357.1 431.9L357.9 429.7L358.8 428.9L358.3 430.8L359.1 433.1L360.2 434.0L359.7 436.5L360.3 438.0L361.4 441.1L361.8 441.6L362.1 444.0L362.9 446.4L364.7 447.4L365.5 449.9L366.8 451.4L368.5 451.7L370.4 451.2L372.1 452.8L372.7 454.1L374.3 455.4L375.4 457.5L377.0 458.4L377.1 460.4L378.5 462.6L379.4 464.4L381.4 465.6L381.9 467.1L383.7 468.3L384.4 469.6L385.8 471.8L386.6 474.2L388.0 475.0L388.4 476.3L390.2 478.0L390.7 480.5L393.0 480.8L393.9 481.6L396.4 483.0L398.0 484.2L399.5 485.2L401.2 487.0L402.8 487.3L404.3 488.4L406.7 489.6L408.0 490.0L409.5 491.5L412.4 491.9L414.3 492.4L415.3 493.7L416.2 496.2L417.9 496.9L418.5 498.9L418.6 500.4L418.1 503.3L417.9 504.5L418.1 505.8L416.9 508.6L417.1 508.6M437.9 505.7L438.2 507.4L438.4 510.0L438.7 511.2L439.5 512.9L440.0 515.6L440.7 517.7L441.1 519.2L441.7 521.2L442.6 522.6L443.4 525.2L444.2 526.4L444.6 529.0L446.1 529.9L446.6 532.1L447.3 534.2L447.7 535.7L449.0 538.2L449.5 540.4L450.2 542.2L450.5 544.3L451.9 545.0L452.4 547.1L452.7 549.7L453.0 550.3L454.6 553.1L454.6 554.5L455.1 556.7L456.0 559.3L456.0 560.8L456.5 563.3L457.0 564.3L457.2 566.8L458.0 568.8L459.1 569.6L460.0 572.8L459.6 574.8L461.3 576.7L460.9 578.5L462.4 577.9L464.1 577.1L466.1 574.5L467.6 574.4L468.3 572.4L469.0 571.1L469.9 569.0L471.3 566.9L472.3 564.8L473.2 563.0L473.8 561.3L474.2 559.6L475.5 557.3L476.2 555.4L476.8 555.7L477.9 557.3L479.0 560.1L479.6 561.0L480.5 563.4L480.5 565.2L482.1 566.3L482.6 568.4L483.3 569.9L483.4 572.1L484.3 573.6L485.6 576.3L486.0 577.4L486.8 579.7L486.9 582.2L488.4 583.4L488.2 585.9L489.1 587.6L489.8 588.9L490.7 591.4L490.9 593.9L491.6 595.9L492.8 597.1L494.2 598.4L494.6 600.5L495.3 597.5L495.8 596.0L496.1 595.0L496.6 591.9L497.0 590.1L497.0 588.4L498.0 586.9L498.2 584.9L499.1 582.1L500.0 581.3L499.9 579.2L501.3 576.7L501.5 574.4L503.4 576.5L504.0 577.5L504.9 580.0L507.1 581.0L508.3 582.9L509.2 584.2L509.9 585.9L510.0 588.8L511.1 589.8L511.6 592.6L513.5 593.7L514.3 595.0L514.5 596.8L515.5 599.3L516.0 600.8L516.5 603.6L517.2 605.5L518.1 606.2L518.9 608.7L519.2 610.4L519.8 611.0L521.5 608.9L522.2 607.8L523.4 605.2L524.2 603.5L525.3 602.2L525.8 600.0L527.6 598.3L528.0 597.5L529.7 595.1L529.9 593.8L531.3 592.3L531.8 591.1L533.5 589.1L533.9 586.1L534.7 585.3L535.1 583.7L535.9 581.4L536.1 579.2L537.4 579.5L538.6 580.9L539.3 583.5L540.3 584.5L541.0 586.8L542.4 588.7L543.3 590.2L544.4 590.9L545.3 594.0L545.5 595.8L546.9 597.0L546.8 599.7L547.7 600.4L548.9 602.3L550.0 604.4L550.4 606.7L551.3 609.0L551.5 609.4L552.6 612.3L552.7 614.6L554.2 615.8L553.8 617.2L554.6 619.5L555.5 620.7L556.5 623.6L556.6 625.8L558.0 626.8L558.3 628.4L559.2 630.4L560.1 632.2L561.0 634.3L561.6 636.7L562.2 637.8L562.7 640.4L563.6 642.1L564.8 644.4L564.7 646.3L565.5 647.1L565.5 650.4L566.1 651.0L567.1 652.8L568.1 654.9L568.6 657.9L568.7 659.3L569.2 661.4L569.4 663.2L570.6 665.0L570.7 666.4L572.1 668.7L572.5 671.5L572.6 672.4L573.1 675.2L574.1 674.2L574.7 671.8L575.2 669.8L575.0 668.5L575.9 666.4L575.2 664.8L575.6 662.0L576.8 660.2L577.0 658.2L577.0 655.9L577.5 654.2L578.6 652.9L579.1 650.3L579.5 648.4L579.6 647.0L580.3 645.1L581.5 642.9L582.4 642.4L585.4 642.8L585.3 640.7L586.9 637.8L587.7 637.1L588.2 635.6L588.6 633.5L589.5 631.0L590.1 628.9L590.4 627.9L591.4 626.0L591.1 623.1L592.3 621.2L592.4 619.7L593.1 618.0L593.6 615.6L594.5 614.3L596.1 611.7L596.8 610.0L597.2 607.8L598.2 606.9L598.4 605.5L600.0 607.5L600.2 608.9L601.0 611.3L601.8 613.1L602.7 614.2L603.0 615.9L603.9 618.4L604.2 620.9L605.4 622.1L606.0 624.3L607.0 626.3L607.0 627.6L607.9 629.3L608.7 632.0L608.7 633.2L609.0 635.4L609.1 638.4L609.7 639.1L610.6 641.3L610.4 644.0L610.7 646.1L611.0 646.8L612.2 649.6L611.6 651.8L612.4 653.3L612.3 655.7L612.3 656.9L611.4 659.0L612.1 661.5L612.0 663.7L612.1 665.0L611.7 667.4L613.1 668.7L614.9 671.2L615.4 673.3L616.8 674.0L618.0 675.1L619.0 672.5L619.6 671.3L621.0 669.0L621.7 667.2L622.7 666.6L623.5 663.5L624.0 662.6L624.6 660.6L624.3 657.8L625.1 655.9L626.2 653.9L626.1 653.0L626.5 650.2L627.1 648.2L628.1 646.4L628.3 644.0L628.4 643.3L628.9 641.0L629.6 639.5L630.6 636.7L630.4 635.0L630.5 632.5L630.8 630.8L632.3 629.7L632.5 630.4L632.9 631.5L633.6 633.0L634.6 635.1L635.3 636.8L635.6 639.2L637.2 641.2L637.9 643.1L639.5 643.7L641.1 645.1L641.7 646.6L643.1 648.8L644.9 649.6L645.7 651.4L647.4 653.9L648.2 655.6L649.4 656.2L651.0 657.9L652.0 659.3L652.2 662.0L653.3 663.8L653.7 665.8L654.3 666.6L655.5 669.8L655.8 670.7L656.5 672.1L656.7 674.9L656.7 676.4L657.4 678.3L657.4 680.6L657.4 683.0L658.0 684.2L658.9 686.1L658.8 689.4L659.5 690.4L659.5 693.0L659.1 695.3L659.6 696.7L659.6 699.3L660.9 701.1L661.2 701.8L661.6 704.5L662.0 706.4L661.3 707.6M438.9 504.5L439.0 505.8M671.0 684.0L673.3 685.2L674.9 684.2L674.8 682.8L675.9 681.0L677.5 678.7L678.7 677.2L679.7 678.2L680.2 680.2L680.9 682.2L681.1 683.9L682.3 685.1L682.9 687.1L683.9 689.7L684.7 690.8L684.8 692.7L685.8 694.7L685.6 697.1L686.0 698.2M701.7 736.0L703.9 737.6L706.1 738.1L706.9 739.2L709.3 740.1L711.4 739.8L713.2 740.0L715.5 740.0L717.3 741.4L718.9 741.3L720.9 742.3L722.5 743.5L724.9 743.6L727.1 742.2L728.4 742.8L730.1 742.9L733.0 742.0L734.8 742.8L736.4 743.7L737.9 744.2L739.3 745.6L740.3 748.4L741.2 750.0L741.0 751.9L742.4 753.2L743.4 755.5L743.5 756.5L744.0 759.1L744.8 761.5L745.6 762.1L746.3 765.0L746.6 766.5L747.5 769.0L748.3 770.7L748.8 771.6L749.5 774.7L749.7 776.7L750.8 778.3L751.1 780.2L752.2 781.7L752.2 779.6L753.6 777.7L753.8 776.9L755.0 774.3L755.4 772.9L756.4 771.6L757.1 768.5L757.8 767.1L759.1 765.7L760.3 764.0L760.3 761.4L761.7 760.2L761.6 758.4L762.6 756.8L764.7 754.2L766.6 753.6L767.6 753.2L769.8 755.1L770.3 756.6L772.2 757.6L773.6 757.9L775.1 757.3L777.1 756.1L777.2 753.9L778.8 751.4L780.4 750.9L780.3 749.0L781.8 750.7L782.7 751.3L782.9 754.5L784.1 755.7L784.5 757.6L785.9 759.4L785.7 761.3L787.0 763.2L787.8 764.3L787.6 766.9L788.1 768.4L789.7 771.2L790.7 772.4L790.3 773.9L791.9 776.8L792.0 777.6L793.0 779.3L793.7 782.0L794.6 784.4L794.7 785.5L795.5 787.0L796.3 789.3L796.5 791.1L796.9 793.5L798.0 794.8L798.2 797.3L799.5 798.7L799.9 800.5L801.5 802.7L802.2 803.8L803.4 806.5L803.8 807.0L805.3 809.1L806.1 811.7L807.0 812.4L807.4 814.2L809.1 816.4L810.6 817.6L812.0 820.0L813.0 819.9L814.9 820.6L817.5 820.6L818.4 821.0L820.8 820.5L821.0 820.0L821.7 817.0L822.8 815.5L823.7 813.4L824.4 812.2L824.6 810.6L825.0 808.6L824.5 805.8L826.9 805.2L828.6 806.7L830.4 806.4L831.7 807.5L834.1 808.6L835.9 810.2L836.9 810.3L838.5 812.5L840.6 813.3L840.9 815.1L842.3 816.6L843.0 818.1L844.9 820.6L846.0 822.5L847.3 823.4L849.0 822.9L850.3 822.5L852.0 820.5L853.8 820.6L855.2 818.7L856.6 818.2L858.3 817.8L859.2 818.6L860.3 820.8L860.9 823.2L861.2 824.9L862.1 826.8L862.8 827.9L862.3 830.7L862.5 832.1L862.9 835.1L862.6 835.9L862.5 839.2L863.6 840.8L863.4 842.8L863.2 843.8L863.3 846.1L864.0 848.7L864.3 849.5L865.5 852.0L866.1 854.1L867.5 856.4L868.2 858.4L868.3 859.5L869.5 861.3L872.2 862.0L873.1 861.6L874.3 860.2L875.5 857.9L876.9 856.5L877.9 855.2L878.4 853.6L879.3 851.2L880.4 849.7L881.9 848.0L882.9 846.5L884.9 845.9L887.0 846.1L888.3 845.5L890.4 845.2L893.0 845.6L894.9 847.2L896.0 848.3L898.1 848.0L898.6 850.0L899.7 851.4L899.7 854.6L900.1 855.8L900.3 858.0L900.6 860.2L901.7 861.6L901.5 864.1L902.6 865.3L903.7 866.9L904.0 869.5L904.5 870.9L905.8 872.5L906.8 872.1L907.3 870.6L907.4 868.4L908.9 866.3L909.4 864.9L910.1 863.2L911.1 862.3L911.9 865.1L913.3 866.1L914.5 868.1L915.5 869.3L916.1 870.9L917.1 872.8L917.3 873.9L917.6 877.2L919.3 879.2L919.8 880.4L919.7 883.0L920.1 884.7L920.6 886.0L922.2 887.8L922.4 890.1L924.0 890.9L925.2 894.0L926.0 894.3L926.3 896.4L927.7 895.3L928.7 894.4L930.0 892.0L931.7 891.0L933.4 889.1L934.2 889.6L935.5 891.5L936.8 893.2L937.9 894.5L939.3 895.0L940.6 897.9L940.6 899.9L941.1 901.7L941.6 902.2L942.4 904.4L943.4 907.2L943.9 909.3L944.4 910.0L945.7 910.7L946.1 910.0L946.9 907.6L948.0 905.9L948.2 904.3L948.8 901.8L948.7 899.3L949.6 898.4L949.5 895.4L950.4 893.3L951.5 892.2L951.3 890.5L951.2 888.3L952.0 885.6L952.6 884.3L952.5 882.9L952.5 880.1L952.9 877.9L954.1 877.2L955.3 876.6L958.0 875.6L959.8 874.8L961.1 873.0L962.2 872.2L963.1 869.6L963.8 868.4L964.7 870.9L965.2 872.4L965.3 874.6L966.4 875.9L966.2 877.4L967.2 879.8L967.8 882.4L967.9 883.3L968.1 886.2L968.4 887.4L969.0 889.8L968.8 891.1L969.2 894.2L969.6 896.2L969.0 897.7L969.5 899.3L969.3 902.3L969.4 904.1L969.3 905.2L970.3 907.4L970.2 909.5L970.1 908.1L970.0 906.8L971.2 904.4L971.5 902.1L971.1 901.0L971.8 898.3L971.7 896.9L972.2 895.3L972.2 893.6L973.1 890.8L973.3 888.6L973.4 887.4L974.0 885.1L974.7 882.5L974.6 881.7L976.0 878.5L976.2 878.0L976.3 876.2L978.2 875.3L979.9 875.7L981.9 877.0L982.4 874.4L983.4 873.0L983.3 870.6L984.2 868.6L985.2 866.4L985.8 865.8L985.9 862.4L987.6 862.9L987.6 863.9L988.5 865.7L989.0 868.6L988.9 870.2L990.2 872.3L990.6 872.9L991.1 875.9L992.1 876.6L992.9 874.4L992.6 872.9L993.5 869.7L993.4 868.7L994.6 866.2L994.1 863.9L994.4 863.2L994.9 860.0L996.1 858.5L995.9 856.1L996.4 854.6L997.1 852.8L998.0 850.4L998.1 848.4L998.9 846.1L999.0 848.1L998.8 851.4L998.9 852.9L999.9 855.2L999.5 856.8L1000.4 858.3L1000.9 860.1L1000.6 862.5L1001.4 865.0L1001.4 866.0L1002.0 868.6L1002.2 870.2L1001.8 871.6L1002.5 873.7L1002.7 876.7L1002.4 878.5L1002.7 880.3L1003.3 881.7L1002.8 883.7L1003.7 886.7L1003.7 887.7L1004.0 889.9L1004.5 891.6L1004.0 893.9L1004.4 896.7L1004.7 897.6L1005.4 900.8L1005.8 902.1L1006.1 903.4L1005.8 906.4L1007.3 907.5L1007.9 909.2L1009.9 910.2L1011.0 907.7L1010.8 906.2L1011.5 904.2L1011.3 902.3L1012.4 900.4L1011.6 899.2L1012.6 897.3L1012.6 894.0L1013.6 892.9L1013.3 891.1L1014.1 888.7L1014.1 886.9L1014.0 884.0L1014.4 882.2L1015.1 881.1L1015.5 878.8L1015.3 876.3L1016.6 875.5L1016.5 876.8L1016.3 878.8L1017.5 882.0L1017.7 883.7L1017.7 884.5L1018.2 887.9L1019.1 889.4L1018.6 891.4L1019.6 893.7L1019.0 894.6L1019.7 896.7L1019.8 898.6L1019.8 900.9L1020.6 903.6L1020.7 905.7L1020.3 906.5L1021.1 908.6L1021.6 911.5L1021.8 913.6L1021.5 914.9L1021.3 916.3L1023.1 919.0L1023.6 919.9L1025.0 921.2L1026.6 923.3L1027.2 924.7L1028.5 927.0L1029.4 928.3L1030.4 929.6L1032.5 928.4L1033.1 927.6L1035.7 926.4L1037.3 924.6L1038.6 924.1L1039.1 922.8L1041.5 920.8L1042.8 919.9L1043.8 918.3L1044.8 917.5L1046.1 919.5L1046.3 920.9L1046.1 923.2L1047.4 924.2L1047.4 926.4L1048.2 929.1L1048.3 929.9L1048.8 932.2L1049.2 934.4L1049.8 936.9L1049.9 938.6L1050.4 936.3L1050.4 934.8L1050.5 933.1L1050.6 930.2L1051.4 928.6L1050.8 927.1L1051.7 925.4L1051.4 922.9L1051.7 921.3L1051.1 918.9L1052.2 916.7L1052.5 914.6L1052.0 912.5L1052.2 911.2L1052.5 908.2L1052.1 906.1L1052.7 904.9L1052.7 902.1L1053.4 900.0L1052.6 899.3L1052.9 896.5L1053.4 895.0L1054.0 892.9L1053.8 890.9L1053.5 889.1L1054.5 887.2L1054.6 885.0L1054.0 882.5L1053.9 880.9L1054.0 878.8L1055.2 877.0L1054.6 874.0L1054.8 872.0L1054.5 870.6L1055.4 868.3L1056.2 869.8L1057.1 871.4L1058.1 873.7L1058.7 874.9L1059.3 876.3L1060.8 878.8L1061.6 881.3L1062.1 882.1L1063.4 884.7L1063.4 886.9L1064.6 887.8L1065.4 889.9L1065.3 891.7L1066.4 893.5L1066.9 895.9L1067.1 898.2L1067.6 899.3L1068.8 900.8L1069.4 904.0L1068.7 905.4L1069.4 906.5L1070.0 909.9L1070.5 911.8L1071.4 912.3L1071.6 915.4L1072.3 917.0L1073.5 917.6L1074.8 919.1L1076.9 920.7L1078.9 921.2L1079.1 919.5L1080.1 917.8L1079.9 915.8L1080.9 915.0L1082.0 913.0L1082.2 911.3L1083.0 909.2L1083.4 907.4L1084.5 904.4L1084.9 903.8L1085.9 901.4L1086.7 898.8L1087.1 899.8L1088.0 900.4L1089.1 902.9L1089.2 904.4L1090.6 907.3L1091.6 908.4L1092.3 909.7L1092.2 912.9L1093.2 914.2L1093.2 915.8L1093.3 918.3L1093.8 920.5L1093.7 922.5L1094.3 924.6L1094.3 925.8L1095.5 928.6L1095.7 930.7L1096.2 932.8L1096.2 934.1L1095.7 935.4L1096.8 937.4L1096.9 940.7L1097.2 942.6L1098.5 944.1L1098.7 945.1L1099.7 947.9L1100.3 949.7L1101.1 951.8L1102.1 953.3L1102.6 955.6L1103.2 957.7L1103.8 958.9L1104.4 957.0L1105.6 954.6L1106.6 953.5L1107.2 951.6L1108.4 949.9L1108.4 946.8L1109.4 945.3L1110.7 944.2L1110.5 942.1L1111.9 939.8L1112.0 938.7L1113.5 936.8L1114.0 934.8L1114.8 933.3L1115.8 930.5L1117.2 929.4L1118.6 928.3L1119.4 927.4L1121.3 924.8L1121.4 922.8L1122.5 921.7L1122.6 919.3L1123.3 918.4L1123.6 916.3L1124.6 914.4L1125.2 912.9L1125.7 910.0L1126.7 907.9L1126.9 906.7L1127.9 909.2L1127.4 910.7L1128.4 913.8L1127.9 914.9L1128.4 916.8L1128.9 918.4L1129.7 920.9L1129.5 923.8L1129.7 924.6L1130.7 926.4L1131.5 928.4L1133.2 929.6L1135.0 931.1L1136.5 933.1L1137.8 934.0L1139.5 936.2L1140.8 936.9L1141.8 937.7L1143.1 939.6L1145.0 939.4L1145.6 937.4L1146.9 936.6L1148.6 934.5L1149.2 933.5L1150.4 936.4L1151.0 937.3L1152.7 939.5L1153.1 940.3L1154.8 942.6L1155.9 944.7L1156.9 945.3L1157.8 947.6L1158.8 949.9L1159.3 951.1L1160.2 953.1L1160.6 954.8L1162.0 956.4L1163.5 955.1L1165.0 953.9L1166.4 952.3L1168.2 951.4L1169.6 950.3L1170.6 948.5L1171.7 946.1L1172.3 945.1L1174.0 943.5L1175.8 941.9L1176.4 939.7L1177.3 938.4L1179.1 937.0L1179.1 935.9L1180.5 933.1L1181.3 932.0L1182.2 929.5L1182.8 928.0L1183.4 926.9L1184.7 924.9L1185.1 922.8L1186.4 920.4L1186.4 919.0L1187.7 916.4L1187.9 914.3L1188.6 912.5L1188.9 910.8L1189.6 909.0L1190.2 906.5L1189.5 905.6L1190.6 902.7L1191.6 902.4L1193.3 899.3L1193.9 898.0L1195.5 897.4L1196.8 895.9L1197.7 892.8L1198.6 892.3L1199.9 890.6L1201.1 888.5L1201.4 887.2L1203.1 888.8L1204.0 890.7L1204.1 891.6L1205.4 893.8L1205.7 895.4L1206.8 896.3L1207.9 893.5L1207.9 891.3L1208.4 890.8L1208.2 888.1L1208.6 886.5L1209.4 885.0L1209.8 882.1L1209.8 881.1L1210.2 878.7L1210.8 876.0L1211.6 874.7L1211.9 872.2L1211.7 871.1L1212.4 868.5L1213.4 867.0L1213.2 865.2L1214.0 863.3L1214.6 860.8L1214.2 860.8L1214.8 863.9L1215.3 866.2L1215.0 867.7L1215.9 869.3L1215.3 871.1L1215.4 872.6L1215.9 875.9L1216.9 877.2L1217.1 879.0L1217.4 881.1L1217.4 884.0L1217.5 885.9L1218.4 886.9L1219.0 889.6L1219.4 891.1L1219.8 892.4L1219.9 894.6L1220.6 897.4L1221.1 894.9L1221.6 892.8L1221.6 890.5L1222.7 889.6L1222.8 887.7L1223.9 887.9L1223.6 890.4L1224.4 892.7L1224.3 894.0L1225.6 896.6L1225.0 898.1L1225.9 900.5L1225.9 902.5L1226.0 904.7L1227.1 906.7L1227.0 908.9L1227.5 909.7L1227.9 911.4L1228.4 913.8L1228.8 915.3L1228.4 917.9L1229.5 920.1L1229.2 922.4L1229.0 919.8L1229.3 918.0L1229.8 915.2L1229.9 913.1L1230.6 911.9L1230.6 909.6L1230.4 907.6L1230.7 905.6L1231.1 903.2L1231.1 902.5L1231.5 900.1L1231.1 898.0L1231.6 895.2L1231.5 894.5L1231.8 892.1L1232.0 889.2L1232.1 888.3L1233.1 885.9L1232.9 884.2L1233.3 882.6L1233.1 879.6L1233.5 878.6L1234.6 875.9L1234.6 874.3L1234.6 871.7L1235.7 870.1L1235.5 868.7L1235.9 866.2L1236.7 865.0L1237.5 862.4L1237.0 860.6L1237.5 858.9L1238.5 856.7L1239.7 855.3L1240.0 853.1L1240.6 850.4L1241.5 849.7L1242.3 847.8L1243.2 845.0L1244.2 847.3L1243.7 848.7L1244.3 851.3L1244.5 852.3L1244.6 854.1L1245.4 856.3L1246.1 859.0L1246.7 860.5L1246.6 861.9L1246.2 865.1L1246.5 865.8L1247.1 867.8L1247.8 870.5L1247.9 872.1L1247.0 873.8L1248.0 876.6L1247.5 878.5L1248.4 880.3L1248.5 882.0L1247.8 884.5L1248.4 885.8L1248.5 888.5L1248.3 889.9L1248.4 892.6L1248.6 893.6L1248.9 895.8L1248.5 898.1L1248.5 900.7L1248.4 901.7L1248.4 905.0L1248.9 905.6L1248.2 908.5L1248.1 911.0L1248.2 912.6L1248.2 913.8L1249.0 916.4L1249.5 918.0L1249.2 920.3L1249.5 922.4L1250.2 924.6L1249.3 926.8L1249.7 928.7L1249.8 930.5L1250.4 931.7L1251.0 933.7L1251.6 934.7L1252.1 933.6L1253.3 931.3L1254.8 929.3L1256.3 928.4L1257.6 926.4L1258.5 924.8L1260.6 923.5L1261.5 922.6L1262.3 920.2L1263.2 918.2L1264.5 915.9L1264.5 914.4L1265.1 913.7L1266.0 911.2L1266.9 908.9L1268.3 907.3L1270.0 906.7L1270.4 904.7L1271.4 902.5L1273.2 900.9L1274.2 899.1L1274.2 897.6L1275.6 895.7L1276.2 894.4L1277.1 891.9L1277.8 890.9L1279.3 889.2L1280.0 887.2L1281.7 885.8L1283.3 884.3L1284.4 883.4L1285.4 880.4L1287.0 880.1L1287.9 882.0L1288.6 884.8L1289.1 885.8L1290.0 888.8L1289.9 889.8L1291.4 892.4L1292.3 893.3L1292.7 892.4L1294.3 889.9L1295.3 887.6L1296.1 887.2L1297.7 885.1L1299.0 884.1L1300.1 885.5L1300.7 886.2L1302.3 889.1L1303.3 889.7L1303.7 888.3L1304.3 885.7L1304.1 884.3L1304.7 883.0L1306.0 879.8L1305.5 879.1L1306.7 877.2L1306.9 874.2L1307.4 872.0L1307.1 870.5L1307.6 869.4L1307.9 867.0L1308.8 865.4L1308.9 863.5L1309.1 861.4L1309.6 859.7L1309.9 856.4L1309.9 855.6L1310.8 857.7L1311.1 859.6L1311.5 861.1L1311.9 863.1L1311.9 865.0L1312.6 866.8L1313.1 868.6L1313.0 870.2L1313.1 872.6L1313.9 874.2L1314.4 877.1L1314.3 879.6L1314.3 881.0L1314.5 882.5L1315.6 885.5L1316.0 887.2L1316.3 889.2L1315.6 891.3L1316.2 892.6L1316.9 894.8L1316.8 897.0L1319.2 896.6L1320.1 895.0L1322.1 895.1L1324.7 896.5L1325.7 896.2L1326.7 895.5L1327.9 893.7L1327.7 891.5L1327.5 889.8L1327.8 888.4L1328.6 885.4L1328.2 883.7L1329.3 881.4L1328.8 879.4L1329.1 878.1L1329.5 875.3L1330.3 874.6L1331.3 871.9L1332.4 870.3L1332.5 867.9L1333.4 866.6L1334.4 865.1L1335.5 863.1L1337.0 864.9L1338.2 867.4L1339.1 868.2L1340.5 869.5L1341.0 867.2L1341.3 866.8L1341.4 864.4L1341.7 862.0L1341.8 860.1L1341.8 858.2L1342.3 855.5L1343.0 854.9L1343.5 852.9L1343.6 850.7L1344.5 849.2L1346.1 847.2L1347.7 846.5L1349.4 844.9L1350.3 847.3L1351.4 848.1L1351.2 850.6L1352.4 852.1L1351.8 853.9L1353.0 856.2L1352.7 858.6L1353.7 860.1L1354.5 862.5L1355.2 863.9L1355.1 865.9L1355.7 867.3L1356.2 870.0L1358.6 870.8L1359.5 873.2L1360.7 873.4L1362.0 875.0L1364.2 876.9L1365.8 876.7L1367.2 877.2L1369.9 878.3L1371.1 877.1L1372.2 876.5L1373.0 873.9L1374.5 872.9L1375.6 871.1L1376.5 869.4L1376.9 868.1L1378.1 864.8L1378.8 864.3L1379.5 862.4L1380.7 860.0L1381.1 858.8L1382.4 856.1L1382.8 854.2L1383.5 852.6L1384.4 850.0L1385.7 849.2L1386.4 847.8L1387.5 845.6L1387.6 843.3L1389.1 842.3L1389.8 840.2L1391.6 838.4L1393.5 837.3L1394.2 836.1L1395.2 834.4L1396.7 833.9L1398.8 833.8L1401.0 832.8L1402.9 833.1L1403.9 834.7L1404.8 836.0L1405.7 838.1L1407.1 840.5L1407.4 842.6L1408.4 844.0L1409.4 846.4L1411.5 846.7L1413.0 848.9L1413.7 848.6L1415.5 848.7L1415.4 848.2L1416.1 845.2L1417.0 843.6L1416.6 841.2L1417.0 839.9L1417.5 837.3L1417.6 835.1L1417.6 834.4L1418.6 831.2L1418.8 829.4L1418.8 828.1L1419.3 825.3L1420.1 824.2L1420.2 822.7L1420.4 819.9L1421.5 818.7L1421.3 816.2L1422.4 814.5L1422.0 811.5L1422.9 810.7L1424.0 812.3L1423.8 814.2L1425.1 815.1L1426.0 817.7L1426.0 819.7L1427.0 821.4L1428.9 821.6L1429.9 819.8L1431.6 818.9L1432.1 819.7L1433.1 821.2L1433.7 823.5L1433.8 825.9L1435.1 827.1L1435.2 829.1L1435.3 832.0L1436.1 833.0L1437.6 835.9L1438.1 837.5L1439.3 838.7L1440.5 840.7L1441.3 842.6L1442.5 843.0L1443.1 845.4L1444.5 847.7L1445.0 849.4L1445.2 851.7L1446.2 853.0L1447.4 852.6L1449.1 850.6L1450.2 848.8L1451.2 847.5L1451.9 845.8L1453.0 843.8L1452.5 841.0L1454.0 839.4L1453.6 838.7L1454.5 835.7L1454.7 833.7L1456.0 831.7L1456.3 829.7L1456.3 828.9L1456.6 826.3L1457.6 823.8L1457.8 822.7L1458.7 821.2L1459.1 819.4L1459.8 816.8L1460.2 815.0L1460.7 813.6L1463.3 813.8L1464.8 813.6L1465.7 814.6L1466.8 816.0L1467.5 819.2L1468.2 821.3L1468.9 821.6L1469.3 823.5L1470.6 826.9L1470.6 827.8L1471.3 829.1L1472.8 831.2L1473.6 833.3L1474.4 835.5L1474.6 832.5L1474.2 831.1L1475.2 829.3L1475.3 826.3L1475.8 824.6L1475.8 822.6L1476.8 820.2L1476.8 818.7L1477.7 817.3L1478.3 815.0L1477.8 812.6L1478.5 811.7L1479.3 808.7L1479.9 806.6L1480.1 805.1L1480.3 803.2L1481.1 801.1L1480.7 799.3L1481.9 798.2L1481.9 795.3L1482.5 796.1L1484.3 798.3L1484.7 800.0L1486.4 801.0L1487.4 802.3L1487.2 804.6L1489.0 806.5L1489.0 808.4L1489.8 809.9L1490.0 811.7L1491.7 814.5L1492.8 815.7L1493.7 817.3L1495.6 818.7L1496.5 820.2L1497.4 818.3L1498.1 817.0L1498.4 815.6L1499.3 813.0L1501.0 811.1L1501.2 810.2L1501.8 807.8L1502.2 805.0L1503.6 804.0L1504.5 802.5L1504.4 799.6L1505.3 798.6L1506.4 796.8L1506.8 795.1L1508.9 792.8L1509.6 790.8L1511.3 789.7L1512.2 788.5L1512.9 790.1L1513.7 792.2L1515.0 794.5L1516.5 796.2L1517.9 795.9L1519.0 796.1L1520.4 793.5L1522.0 792.5L1524.1 791.7L1526.2 790.3L1526.6 789.5L1527.6 786.9L1528.4 786.2L1528.6 784.0L1528.9 781.1L1529.2 780.7L1530.3 778.5L1530.6 776.3L1531.5 774.0L1531.7 772.6L1533.2 770.3L1534.5 769.8L1535.5 772.1L1536.0 774.8L1536.4 776.5L1537.2 777.9L1537.5 779.0L1539.0 781.7L1538.7 782.8L1539.9 786.0L1540.6 787.4L1542.5 787.3L1544.8 787.6L1545.5 787.0L1547.2 786.7L1549.6 785.2L1551.1 784.1L1552.7 782.4L1553.1 780.2L1553.6 778.6L1553.9 776.9L1555.5 776.2L1555.5 774.0L1557.1 772.0L1557.5 769.6L1559.0 768.7L1560.7 766.5L1561.0 765.7L1561.9 763.8L1563.0 761.6L1564.2 764.0L1565.4 765.4L1566.9 766.7L1567.8 768.4L1569.2 770.0L1569.1 767.6L1570.3 766.7L1571.1 764.9L1572.7 762.0L1573.7 761.3L1574.1 760.3L1575.8 757.7L1578.2 756.9L1579.0 756.3L1580.6 754.9L1582.6 753.9L1583.6 751.2L1585.4 749.8L1586.7 749.7L1587.8 748.7L1590.8 747.6L1592.5 747.2L1594.5 747.0L1596.4 747.2L1597.6 746.2L1599.9 744.1L1601.2 744.4L1603.2 744.1L1604.3 746.1L1606.7 747.0L1607.9 745.9L1608.8 743.9L1609.7 742.2L1609.6 740.9L1611.7 738.6L1611.4 736.4L1612.9 734.7L1614.0 732.6L1614.1 730.4L1614.8 729.8L1615.7 727.0L1617.0 725.1L1617.8 724.9L1620.2 723.8L1621.3 721.9L1622.7 723.4L1624.9 724.5L1625.5 725.8L1627.3 727.1L1628.2 728.4L1630.4 729.1L1631.6 730.5L1632.8 730.8L1634.7 729.3L1635.9 728.4L1637.3 727.4L1637.9 725.2L1639.3 723.5L1639.8 722.5L1640.2 719.7L1641.0 718.5L1642.4 715.8L1642.9 714.7L1644.1 712.4L1646.3 711.2L1646.9 710.5L1649.0 710.1L1651.2 708.9L1652.0 707.0L1653.0 706.4L1654.1 704.4L1655.6 702.0L1655.4 700.7L1656.5 698.3L1657.7 697.5L1658.0 694.4L1658.2 692.4L1659.3 691.2L1660.4 689.0L1661.1 687.7L1661.8 685.7L1661.8 684.1L1662.3 682.0L1662.9 679.1L1663.9 677.9L1665.2 675.9L1666.0 673.5L1666.0 672.2L1667.6 670.6L1668.3 668.2L1668.5 667.5L1669.3 665.7L1670.5 663.0L1671.0 660.8L1671.6 659.7L1672.8 656.9L1672.7 656.0L1673.2 653.5L1674.5 651.8L1674.9 650.1L1675.0 648.2L1675.1 645.6L1676.0 644.4L1676.5 641.4L1677.4 640.8L1677.2 638.2L1678.3 636.7L1678.9 633.8L1678.8 632.9L1679.7 631.2L1679.8 629.4L1680.6 626.8L1680.6 624.1L1682.0 622.1L1681.5 621.6L1683.0 618.9L1684.1 617.4L1684.6 615.9L1686.3 613.1L1687.5 613.0L1687.8 614.1L1689.3 615.5L1690.1 616.0L1691.4 618.0L1692.3 619.8L1693.4 622.0L1693.9 624.2L1695.5 625.5L1697.2 623.1L1698.1 621.9L1698.7 620.1L1699.8 619.4L1702.5 618.2L1703.2 616.5L1705.1 615.8L1706.9 616.1L1708.4 615.9L1710.8 618.3L1711.7 617.8L1712.8 616.5L1714.2 615.3L1714.1 612.6L1715.0 610.7L1715.9 608.9L1716.9 607.7L1718.9 607.1L1720.4 605.8L1722.9 605.3L1723.1 607.0L1724.6 608.3L1725.2 611.1L1725.7 612.9L1726.4 614.8L1727.9 615.2L1728.9 618.1L1729.9 619.5L1730.9 620.4L1731.3 623.5L1733.3 623.8L1735.2 625.0L1736.9 625.7L1738.8 627.3L1740.4 628.5L1741.4 626.8L1741.4 625.0L1742.1 623.0L1742.2 621.7L1743.0 620.0L1742.6 617.2L1743.0 615.1L1743.2 613.1L1744.0 611.9L1744.3 610.2L1746.3 607.5L1747.1 606.6L1747.7 604.9L1748.6 602.6L1748.8 599.9L1751.0 600.3L1752.3 600.3L1753.4 602.3L1753.1 603.9L1753.5 606.4L1754.5 608.4L1754.9 609.6L1755.6 611.5L1754.8 614.1L1755.5 615.4L1755.8 617.9L1756.8 619.2L1756.4 621.6L1756.3 623.0L1756.9 624.9L1758.1 627.8L1757.3 629.2L1758.7 630.6L1758.9 633.9L1758.7 635.6L1758.9 636.3L1759.1 634.6L1760.4 632.6L1760.3 630.7L1760.6 628.7L1761.2 627.4L1761.9 625.2L1762.1 623.3L1762.1 621.5L1762.3 619.1L1763.4 617.6L1763.5 615.0L1763.5 613.8L1764.6 611.2L1763.9 609.1L1764.2 606.7L1764.5 605.0L1764.9 603.6L1765.1 600.4L1766.3 598.5L1766.0 596.5L1766.9 595.8L1766.2 592.9L1767.3 591.9L1767.6 590.0L1767.8 587.8L1768.1 585.7L1768.0 582.8L1769.1 581.8L1768.5 578.9L1769.3 577.2L1769.2 576.1L1770.0 574.3L1770.4 570.9L1770.7 569.4L1770.6 568.3L1771.6 565.4L1771.9 563.5L1772.3 562.1L1772.8 559.2L1772.9 557.2L1773.2 556.3L1773.5 553.5L1774.4 554.2L1775.0 556.4L1774.6 558.2L1775.6 561.0L1775.5 562.4L1776.4 565.3L1776.2 566.7L1777.2 568.4L1777.5 570.1L1777.8 573.2L1778.3 574.6L1779.0 575.8L1779.9 577.7L1780.4 581.0L1780.1 582.9L1781.5 584.2L1782.8 585.3L1783.5 587.1L1785.9 587.5L1787.1 590.3L1788.9 590.8L1790.6 592.3L1791.5 592.8L1793.7 593.1L1794.8 592.0L1796.8 590.8L1797.6 588.5L1798.7 586.7L1799.3 585.0L1800.6 583.2L1802.2 581.7L1803.3 579.8L1803.6 578.3L1805.3 577.4L1806.3 574.8L1807.4 573.5L1808.9 574.2L1810.2 574.5L1812.1 576.6L1813.9 577.6L1814.7 579.3L1815.1 580.9L1815.6 582.4L1816.1 585.1L1817.7 587.2L1817.4 588.1L1818.1 591.0L1818.6 592.0L1819.4 595.1L1819.4 596.4L1819.5 598.7L1820.1 599.6L1820.2 601.6L1820.8 603.9L1820.6 605.5L1821.5 607.4L1821.4 611.0L1820.8 611.4L1821.4 614.6L1821.4 616.5L1821.4 618.9L1821.9 620.3L1821.7 621.8L1822.6 624.9L1822.4 626.8L1822.1 627.9" stroke="#00ff00" stroke-width="8" stroke-linecap="round" stroke-linejoin="round" fill="none"/>
<path d="M307.3 390.2L306.7 393.5L307.7 395.6L307.7 396.0L309.0 398.1L310.2 400.7L312.0 401.4L312.3 402.7L314.9 404.6L316.5 405.9L317.9 405.2L320.0 405.8L322.2 406.5L324.1 406.6L325.0 405.9L327.6 407.2L329.8 409.4L330.6 409.8L331.9 411.2L333.3 412.8L335.0 415.3L335.9 415.3L336.6 418.1L337.5 419.7L336.5 422.3L336.9 423.5L337.0 425.2L337.5 428.1L337.6 429.2L337.5 432.4L338.4 434.5L338.0 435.7L339.7 438.6L339.7 439.8L340.1 441.7L340.3 442.4L340.7 445.0L342.1 447.7L343.9 449.4L344.8 450.4L345.1 451.3L347.6 453.9L348.8 454.4L349.2 453.4L350.4 452.4L351.0 450.4L351.8 448.3L351.6 446.7L352.0 444.4L354.1 441.7L354.0 439.8L354.4 438.0L354.8 436.5L355.6 435.3L356.6 432.2L357.1 430.9L358.6 430.0L358.5 430.4L359.2 430.9L359.5 433.1L360.1 434.9L361.0 436.9L360.9 440.0L360.8 440.6L362.1 443.2L363.3 445.0L363.3 447.0L363.9 448.0L366.2 451.0L367.8 451.8L369.2 452.1L371.3 451.5L372.1 453.8L374.0 455.5L374.0 455.6L376.5 457.2L377.5 459.2L377.6 461.7L378.9 462.5L380.3 463.7L381.8 466.4L383.0 467.6L384.4 469.4L384.8 470.0L386.7 472.2L387.4 474.9L388.6 476.7L389.5 478.4L390.0 480.2L392.2 480.1L393.7 482.0L395.6 482.4L396.8 484.4L398.2 485.3L401.0 486.0L401.9 486.5L403.7 488.5L404.7 489.2L406.4 490.9L408.9 490.5L411.6 490.6L412.2 492.4L413.7 492.1L415.0 494.1L416.2 496.1L418.8 496.9L417.8 500.4L417.8 501.3L418.1 502.9L417.5 505.4L417.3 507.4L416.6 506.5" stroke="#00ff00" stroke-width="10.6" stroke-linecap="round" stroke-linejoin="round" fill="none"/>
<path d="M303.5 439.4v8.6M304.9 440.3v8.6M306.4 441.1v8.6M307.8 440.9v8.8M309.2 441.9v8.8M310.6 442.8v8.8M312.0 446.2v7.8M313.4 447.2v7.8M314.8 448.1v7.8M316.3 448.8v6.1M317.9 449.4v6.1M319.5 450.1v6.1M321.1 449.0v8.4M322.6 449.7v8.4M324.2 450.3v8.4M325.7 452.1v7.8M327.2 452.8v7.8M328.7 453.6v7.8M330.3 454.7v8.0M331.8 455.4v8.0M333.5 455.4v8.0M335.2 455.8v5.4M336.9 455.8v5.4M338.6 455.8v5.4M340.2 455.1v8.6M341.4 456.3v8.6M342.6 457.5v8.6M343.8 457.1v10.5M345.0 458.3v10.5M346.2 459.5v10.5M347.4 462.0v9.2M348.7 463.1v9.2M350.2 463.9v9.2M351.7 464.8v7.9M353.3 465.5v7.9M354.8 466.3v7.9M356.3 467.6v7.7M357.9 468.2v7.7M359.5 468.6v7.7M361.2 468.9v8.6M362.8 469.4v8.6M364.4 469.9v8.6M365.9 470.4v8.9M367.4 471.3v8.9M368.9 472.2v8.9M370.3 472.4v8.0M371.8 473.2v8.0M373.2 474.1v8.0M374.6 474.9v7.9M375.9 475.9v7.9M377.2 477.0v7.9M378.6 478.5v8.0M379.9 479.6v8.0M381.2 480.7v8.0M382.5 482.4v6.0M383.9 483.5v6.0M385.2 484.6v6.0M386.5 486.0v8.0M387.9 487.0v8.0M389.2 488.1v8.0M390.4 488.9v6.3M391.5 487.5v6.3M392.6 486.2v6.3M393.6 484.3v6.1M394.7 483.0v6.1M395.8 481.7v6.1M396.8 479.4v9.4M397.9 480.7v9.4M398.9 482.0v9.4M400.0 483.6v9.4M401.1 484.9v9.4M402.1 486.2v9.4M403.2 488.1v8.4M404.5 489.1v8.4M405.9 490.1v8.4M406.0 490.9v5.8M439.3 515.1v7.5M440.7 516.0v7.5M442.2 516.8v7.5M443.6 518.5v8.1M445.1 519.4v8.1M446.3 520.6v8.1M447.5 520.8v9.5M448.7 522.0v9.5M449.9 523.2v9.5M451.1 524.6v7.6M452.3 525.8v7.6M453.5 527.0v7.6M455.1 529.5v7.4M456.6 530.2v7.4M458.1 531.0v7.4M459.6 530.7v9.5M461.1 531.4v9.5M462.7 531.9v9.5M464.4 531.0v10.5M466.1 531.3v10.5M467.7 531.7v10.5M469.4 532.5v8.4M471.1 532.7v8.4M472.8 532.9v8.4M474.5 533.7v8.5M476.2 533.8v8.5M477.9 534.0v8.5M479.2 534.6v8.1M480.2 536.0v8.1M481.3 537.3v8.1M482.4 539.3v7.2M483.5 540.6v7.2M484.6 541.9v7.2M485.7 542.2v7.5M486.8 543.5v7.5M488.1 544.6v7.5M489.4 545.5v10.2M490.7 546.5v10.2M492.1 547.6v10.2M493.4 550.8v8.0M494.7 551.9v8.0M496.1 552.9v8.0M497.4 553.8v7.7M498.7 554.8v7.7M500.0 555.9v7.7M501.4 557.3v6.2M502.7 558.4v6.2M504.0 559.4v6.2M505.4 559.0v9.8M506.7 560.0v9.8M508.0 561.1v9.8M509.3 562.0v7.7M510.7 563.0v7.7M512.0 564.1v7.7M513.2 567.1v7.8M514.4 568.3v7.8M515.6 569.5v7.8M516.8 570.0v7.3M518.0 571.2v7.3M519.2 572.4v7.3M520.4 572.2v9.4M521.9 573.1v9.4M523.4 574.0v9.4M524.8 576.4v7.3M526.3 577.3v7.3M527.7 578.2v7.3M529.3 576.4v9.1M530.9 576.8v9.1M532.6 577.1v9.1M534.3 578.6v8.2M535.9 578.9v8.2M537.4 579.7v8.2M538.4 582.7v8.1M539.5 584.0v8.1M540.6 585.3v8.1M541.7 585.6v9.3M542.8 586.9v9.3M543.9 588.2v9.3M545.0 589.2v8.3M545.9 590.6v8.3M546.8 592.0v8.3M547.7 594.0v6.3M548.6 595.4v6.3M549.5 596.9v6.3M550.4 596.9v8.3M551.3 598.3v8.3M552.2 599.8v8.3M553.1 601.1v9.6M554.2 602.4v9.6M555.4 603.6v9.6M556.6 604.5v8.9M557.8 605.7v8.9M559.0 606.9v8.9M560.2 609.9v8.2M561.4 611.1v8.2M562.8 611.1v8.2M564.3 609.8v9.6M565.8 609.7v9.6M567.2 610.7v9.6M568.6 611.9v8.9M570.0 612.9v8.9M571.4 613.9v8.9M572.7 615.4v6.8M574.0 616.5v6.8M575.3 617.6v6.8M576.7 617.6v8.6M578.0 618.7v8.6M579.2 619.9v8.6M580.3 622.2v6.1M581.4 623.5v6.1M582.5 624.8v6.1M583.5 626.7v6.5M584.6 628.0v6.5M585.7 629.3v6.5M586.8 629.7v7.6M588.1 630.8v7.6M589.4 631.9v7.6M590.8 632.6v7.6M592.1 633.7v7.6M593.4 634.8v7.6M594.7 636.6v6.5M596.3 637.2v6.5M597.9 637.6v6.5M599.6 637.0v9.5M601.3 637.3v9.5M602.9 637.7v9.5M604.2 637.3v10.8M605.2 638.7v10.8M606.2 640.0v10.8M607.2 643.4v7.1M608.2 644.8v7.1M609.2 646.1v7.1M610.1 647.7v8.5M611.1 649.1v8.5M612.2 650.3v8.5M613.9 649.3v10.2M615.5 649.7v10.2M617.2 650.1v10.2M618.8 652.4v5.7M619.8 653.7v5.7M620.9 655.0v5.7M621.9 655.6v6.6M623.0 656.9v6.6M624.1 658.2v6.6M625.1 659.3v8.4M626.6 660.1v8.4M628.2 660.7v8.4M629.8 659.8v9.5M631.3 660.4v9.5M632.9 661.1v9.5M634.5 662.4v9.7M636.1 663.1v9.7M637.7 663.7v9.7M639.2 664.5v8.9M640.8 665.2v8.9M642.3 665.9v8.9M643.4 667.3v9.7M644.5 668.6v9.7M645.5 669.9v9.7M646.6 672.6v5.9M647.7 673.9v5.9M648.8 675.2v5.9M649.9 675.0v7.8M651.0 676.2v7.8M652.2 677.4v7.8M653.4 678.5v8.7M654.7 679.7v8.7M655.9 680.9v8.7M657.1 681.6v10.0M658.3 682.8v10.0M659.5 683.9v10.0M660.9 686.8v6.6M662.2 687.9v6.6M663.5 688.9v6.6M664.8 690.8v5.6M666.2 691.9v5.6M667.5 692.9v5.6M669.0 692.6v8.7M670.5 693.4v8.7M671.9 694.3v8.7M673.4 693.5v10.4M674.8 694.4v10.4M676.1 695.5v10.4M677.3 698.1v8.5M678.5 699.3v8.5M679.7 700.5v8.5M680.9 701.5v7.1M682.1 702.7v7.1M683.3 703.9v7.1M684.6 705.0v7.2M686.0 706.1v7.2M687.3 707.1v7.2M688.6 709.5v8.3M689.9 710.5v8.3M691.3 711.6v8.3M692.6 712.3v8.1M693.8 713.4v8.1M695.1 714.5v8.1M696.4 715.6v6.8M697.6 716.7v6.8M698.9 717.9v6.8M700.2 718.7v8.2M701.4 719.8v8.2M702.7 721.0v8.2M704.0 720.6v9.7M705.2 721.7v9.7M706.5 722.9v9.7M708.1 725.7v5.6M709.8 726.0v5.6M711.4 726.3v5.6M713.1 725.5v7.0M714.8 725.9v7.0M716.1 726.9v7.0M717.3 728.7v6.4M718.5 729.9v6.4M719.7 731.1v6.4M720.9 733.1v7.7M722.1 734.3v7.7M723.3 735.5v7.7M724.4 735.4v8.1M725.5 736.7v8.1M726.5 738.0v8.1M727.6 739.0v9.7M728.7 740.3v9.7M729.8 741.6v9.7M730.9 744.8v8.0M732.1 746.0v8.0M733.5 746.9v8.0M735.0 745.6v9.3M736.4 746.4v9.3M737.9 747.3v9.3M739.4 748.6v9.5M740.9 749.2v9.5M742.6 749.5v9.5M744.3 749.9v9.6M745.9 750.2v9.6M747.6 750.5v9.6M749.2 751.8v6.8M750.8 752.4v6.8M752.4 753.1v6.8M754.0 752.9v9.3M755.5 753.5v9.3M757.1 754.2v9.3M758.4 754.3v10.6M759.7 755.3v10.6M761.0 756.4v10.6M762.4 759.1v8.3M763.7 760.1v8.3M765.0 761.2v8.3M766.1 762.2v8.0M767.2 763.5v8.0M768.3 764.8v8.0M769.4 766.1v6.7M770.5 767.4v6.7M771.6 768.7v6.7M772.7 771.1v6.9M773.8 772.3v6.9M775.3 773.2v6.9M776.8 774.4v5.7M778.2 775.3v5.7M779.7 776.1v5.7M781.1 777.5v4.4M782.5 778.5v4.4M783.8 779.5v4.4M785.2 777.9v7.2M786.5 778.9v7.2M787.8 780.0v7.2M789.2 783.6v6.5M790.5 784.7v6.5M791.7 785.9v6.5M792.9 785.8v6.2M794.1 787.0v6.2M795.3 788.2v6.2M796.5 789.5v7.6M797.7 790.7v7.6M798.9 791.9v7.6M800.1 794.4v6.6M801.3 795.6v6.6M802.5 796.8v6.6M803.7 797.7v5.0M804.9 798.9v5.0M806.1 800.1v5.0M807.4 799.2v7.9M809.1 799.5v7.9M810.8 799.8v7.9M812.4 802.2v6.5M814.1 802.5v6.5M815.7 803.1v6.5M817.0 803.9v6.4M818.3 805.0v6.4M819.6 806.0v6.4M821.0 807.4v6.5M822.3 808.5v6.5M823.6 809.5v6.5M825.1 808.9v7.0M826.5 809.7v7.0M828.0 810.6v7.0M829.5 813.1v6.4M830.9 814.0v6.4M832.3 815.0v6.4M833.3 815.7v7.6M834.4 817.0v7.6M835.5 818.3v7.6M836.6 817.7v7.2M837.7 819.0v7.2M838.8 820.3v7.2M839.9 824.2v4.5M841.1 825.3v4.5M842.5 826.4v4.5M843.8 827.6v4.3M845.1 828.7v4.3M846.4 829.7v4.3M847.8 828.0v7.9M849.2 828.8v7.9M850.9 829.1v7.9M852.5 830.1v8.2M854.2 830.4v8.2M855.9 830.8v8.2M857.6 831.2v7.2M859.2 831.6v7.2M860.9 831.9v7.2M862.6 833.3v5.7M864.2 833.7v5.7M865.7 834.3v5.7M866.9 836.4v5.9M868.1 837.6v5.9M869.3 838.8v5.9M870.5 839.6v6.4M871.7 840.8v6.4M872.9 842.0v6.4M874.2 843.0v5.4M875.5 844.1v5.4M876.8 845.1v5.4M878.2 846.0v5.3M879.5 847.0v5.3M880.8 848.1v5.3M882.2 848.7v7.8M883.6 849.6v7.8M885.1 850.4v7.8M886.5 852.3v6.4M888.0 853.2v6.4M889.5 854.1v6.4M890.9 855.1v5.0M892.3 856.1v5.0M893.7 857.0v5.0M895.1 857.2v6.0M896.6 858.1v6.0M896.6 858.1v6.0M906.3 863.7v6.5M907.4 865.0v6.5M908.4 866.4v6.5M909.3 868.8v6.6M910.3 870.1v6.6M911.3 871.5v6.6M912.3 873.4v5.5M913.3 874.8v5.5M914.3 876.2v5.5M915.4 877.5v6.5M917.0 878.1v6.5M918.6 878.8v6.5M920.1 877.6v9.3M921.7 878.2v9.3M923.3 878.8v9.3M924.6 879.3v5.4M926.0 878.2v5.4M927.3 877.1v5.4M928.6 876.3v7.1M930.0 875.3v7.1M931.3 874.2v7.1M932.8 874.0v6.4M934.4 874.7v6.4M935.9 875.3v6.4M937.5 876.4v7.3M939.1 877.0v7.3M940.7 877.7v7.3M942.2 877.0v7.4M943.8 877.6v7.4M945.4 878.2v7.4M947.0 879.4v5.8M948.6 880.0v5.8M950.1 880.6v5.8M951.7 881.3v8.1M953.3 882.0v8.1M954.9 882.6v8.1M956.4 882.8v7.9M958.0 883.5v7.9M959.6 884.1v7.9M961.2 885.5v6.5M962.8 886.1v6.5M964.3 886.7v6.5M965.9 886.4v7.6M967.5 887.0v7.6M969.1 887.7v7.6M970.7 889.5v5.4M972.2 890.1v5.4M973.8 890.8v5.4M975.2 891.5v6.2M976.7 892.4v6.2M978.2 893.3v6.2M979.6 893.3v6.4M981.1 894.2v6.4M982.6 894.9v6.4M984.2 894.9v7.2M985.7 895.5v7.2M987.3 896.2v7.2M988.9 897.4v7.9M990.5 898.1v7.9M992.1 898.7v7.9M993.6 899.0v8.7M995.2 899.6v8.7M996.8 900.2v8.7M998.4 901.0v6.6M999.7 900.1v6.6M1001.1 899.0v6.6M1002.4 898.9v5.5M1003.7 897.8v5.5M1005.0 896.8v5.5M1006.4 894.0v7.8M1007.9 893.8v7.8M1009.6 894.1v7.8M1011.2 895.6v8.4M1012.9 895.9v8.4M1014.6 896.2v8.4M1015.8 897.1v8.8M1016.7 898.5v8.8M1017.6 899.9v8.8M1018.5 901.9v8.0M1019.4 903.4v8.0M1020.3 904.8v8.0M1021.2 905.8v6.9M1022.1 907.3v6.9M1023.0 908.7v6.9M1024.2 910.2v7.4M1025.9 910.2v7.4M1027.6 910.2v7.4M1029.3 911.1v6.4M1031.0 911.1v6.4M1032.7 911.1v6.4M1034.4 909.9v6.9M1036.1 909.9v6.9M1037.2 909.9v6.9M1054.9 906.7v6.3M1056.5 907.0v6.3M1058.2 907.4v6.3M1059.9 907.8v4.8M1061.5 908.2v4.8M1063.2 908.5v4.8M1064.9 906.1v7.2M1066.5 906.4v7.2M1068.2 906.8v7.2M1069.9 907.0v8.3M1071.6 907.0v8.3M1073.3 907.0v8.3M1075.0 908.7v5.6M1076.7 908.7v5.6M1078.2 909.5v5.6M1079.6 908.7v7.4M1081.1 909.6v7.4M1082.6 910.5v7.4M1084.0 912.0v7.5M1085.5 912.8v7.5M1087.2 912.4v7.5M1088.8 913.6v5.0M1090.5 913.3v5.0M1092.2 912.9v5.0M1093.8 912.6v4.9M1095.3 913.4v4.9M1096.9 914.1v4.9M1098.4 912.6v7.8M1099.9 913.3v7.8M1101.4 914.1v7.8M1102.9 915.0v7.7M1104.4 914.8v7.7M1105.7 913.7v7.7M1107.0 913.9v6.2M1108.3 912.8v6.2M1109.7 911.8v6.2M1111.0 910.3v6.9M1112.4 909.4v6.9M1114.0 908.8v6.9M1115.5 909.9v4.7M1117.1 909.3v4.7M1118.7 908.7v4.7M1120.3 906.8v5.7M1121.6 907.8v5.7M1123.0 908.9v5.7M1124.3 910.9v5.5M1125.6 912.0v5.5M1126.9 913.1v5.5M1128.3 912.6v6.7M1129.8 912.7v6.7M1131.5 912.4v6.7M1133.1 912.0v8.0M1134.8 911.7v8.0M1136.5 911.4v8.0M1137.9 911.6v9.2M1139.3 912.7v9.2M1140.6 913.8v9.2M1141.9 914.2v8.0M1143.2 915.2v8.0M1144.6 916.3v8.0M1145.9 917.8v8.5M1147.2 916.7v8.5M1148.5 915.6v8.5M1149.9 913.9v8.7M1151.2 912.8v8.7M1152.5 911.7v8.7M1153.9 910.5v8.2M1155.5 910.2v8.2M1157.2 909.9v8.2M1158.9 911.0v6.5M1160.5 910.7v6.5M1162.2 910.3v6.5M1163.9 908.9v7.6M1165.5 908.6v7.6M1167.2 908.2v7.6M1168.9 909.8v7.0M1170.6 909.5v7.0M1172.2 909.8v7.0M1173.9 910.0v7.3M1175.6 910.4v7.3M1177.2 910.7v7.3M1178.9 909.1v7.9M1180.5 908.4v7.9M1182.0 907.8v7.9M1183.6 906.6v7.5M1185.2 906.0v7.5M1186.8 905.4v7.5M1188.2 908.0v5.3M1189.5 909.1v5.3M1190.8 910.1v5.3M1192.1 911.6v5.9M1193.5 912.6v5.9M1194.8 913.7v5.9M1196.2 915.0v6.5M1197.6 915.8v6.5M1199.0 915.7v6.5M1200.4 913.6v6.7M1201.7 912.5v6.7M1203.0 911.4v6.7M1204.3 910.4v6.3M1205.7 909.4v6.3M1207.1 908.4v6.3M1208.6 906.6v7.1M1210.2 906.0v7.1M1211.8 905.3v7.1M1213.4 905.0v6.6M1214.9 904.4v6.6M1216.5 905.0v6.6M1218.1 905.6v7.4M1219.7 906.2v7.4M1221.3 906.8v7.4M1222.8 909.1v6.9M1224.3 908.6v6.9M1225.6 907.6v6.9M1226.9 906.7v6.7M1228.2 905.7v6.7M1229.6 904.6v6.7M1230.9 902.8v5.8M1232.4 902.1v5.8M1234.1 902.1v5.8M1235.8 902.9v7.0M1237.5 902.9v7.0M1239.2 902.9v7.0M1240.8 902.7v6.9M1242.5 902.4v6.9M1244.2 902.1v6.9M1245.8 901.3v6.6M1247.5 901.0v6.6M1248.9 900.2v6.6M1249.9 897.9v7.7M1250.9 896.6v7.7M1251.9 895.2v7.7M1253.0 894.2v6.7M1254.1 894.2v6.7M1255.3 895.4v6.7M1256.5 896.6v7.1M1257.7 897.8v7.1M1258.9 899.0v7.1M1260.1 899.4v7.1M1261.8 899.4v7.1M1263.5 899.4v7.1M1265.2 898.9v9.6M1266.9 898.9v9.6M1268.5 898.8v9.6M1269.8 898.5v7.8M1271.0 897.3v7.8M1272.2 896.1v7.8M1273.4 894.1v8.8M1274.6 892.9v8.8M1275.8 891.7v8.8M1277.0 890.6v6.6M1278.2 889.4v6.6M1279.4 888.2v6.6M1280.6 887.9v8.2M1281.8 886.7v8.2M1283.0 885.5v8.2M1284.4 884.9v8.1M1286.1 885.3v8.1M1287.7 885.7v8.1M1289.4 887.5v4.8M1291.0 887.3v4.8M1292.5 886.6v4.8M1294.0 885.8v5.3M1295.5 885.0v5.3M1297.1 884.4v5.3M1298.8 882.8v8.1M1300.5 882.8v8.1M1300.5 882.8v8.1M1312.2 881.9v7.3M1313.9 881.4v7.3M1315.5 881.0v7.3M1317.2 879.0v8.9M1318.9 878.8v8.9M1318.9 878.8v8.9M1328.2 877.1v7.4M1329.0 875.6v7.4M1329.7 874.1v7.4M1330.8 874.6v5.8M1332.2 875.5v5.8M1332.7 875.9v5.8M1347.3 861.8v9.0M1349.0 862.1v9.0M1350.7 862.5v9.0M1352.3 862.3v6.9M1353.8 861.6v6.9M1355.3 860.8v6.9M1356.8 859.9v9.2M1358.4 859.1v9.2M1359.9 858.4v9.2M1361.4 859.4v7.4M1362.9 858.7v7.4M1364.5 857.9v7.4M1366.0 855.3v9.0M1367.7 855.0v9.0M1369.4 854.6v9.0M1371.0 856.8v6.8M1372.7 856.5v6.8M1374.3 856.0v6.8M1375.9 852.8v7.1M1377.5 852.2v7.1M1379.1 851.5v7.1M1380.6 850.9v9.2M1382.2 850.2v9.2M1383.7 849.4v9.2M1385.1 850.6v5.4M1386.6 849.7v5.4M1388.0 848.8v5.4M1389.5 847.3v7.2M1390.9 846.4v7.2M1392.2 845.3v7.2M1393.6 843.4v7.7M1394.9 842.3v7.7M1396.2 841.3v7.7M1397.5 841.0v6.3M1398.9 840.1v6.3M1400.6 839.9v6.3M1402.3 840.7v5.7M1404.0 840.6v5.7M1405.7 840.4v5.7M1407.4 839.9v5.0M1407.4 839.9v5.0M1418.7 835.3v6.7M1420.1 836.3v6.7M1421.5 837.2v6.7M1422.9 836.4v8.5M1424.5 836.9v8.5M1426.2 836.9v8.5M1427.9 837.5v6.6M1429.6 837.5v6.6M1430.9 836.8v6.6M1432.0 835.7v7.4M1433.1 834.4v7.4M1434.1 833.0v7.4M1435.2 833.0v7.2M1436.3 831.6v7.2M1437.4 830.4v7.2M1438.9 829.2v5.8M1440.3 828.4v5.8M1441.8 827.5v5.8M1443.2 825.4v9.1M1444.7 824.5v9.1M1446.3 823.9v9.1M1447.9 825.6v6.6M1449.6 825.3v6.6M1451.3 824.9v6.6M1452.9 823.2v8.2M1454.6 823.0v8.2M1456.3 823.0v8.2M1458.0 823.9v7.1M1459.7 823.9v7.1M1461.4 823.9v7.1M1462.7 821.2v7.5M1463.8 819.9v7.5M1464.9 818.5v7.5M1465.9 817.6v7.6M1466.9 816.4v7.6M1478.8 808.9v7.4M1480.2 809.9v7.4M1481.6 810.8v7.4M1483.0 811.8v7.1M1484.6 812.4v7.1M1486.3 812.5v7.1M1487.6 812.1v7.7M1488.8 810.9v7.7M1490.0 809.7v7.7M1491.2 809.8v4.8M1492.4 808.6v4.8M1493.5 807.3v4.8M1494.2 804.9v8.2M1494.8 803.4v8.2M1495.5 801.8v8.2M1496.2 799.7v8.8M1496.8 798.2v8.8M1497.5 796.6v8.8M1498.2 794.8v7.4M1499.4 793.7v7.4M1500.8 792.8v7.4M1502.2 791.3v8.7M1503.7 790.5v8.7M1505.3 790.2v8.7M1507.0 791.0v7.5M1508.7 790.6v7.5M1510.3 790.3v7.5M1512.0 790.9v6.3M1513.7 790.9v6.3M1515.4 790.9v6.3M1517.1 790.2v8.1M1518.8 790.2v8.1M1520.3 789.8v8.1M1520.9 788.6v6.2M1521.6 787.0v6.2M1522.3 785.5v6.2M1522.9 784.1v7.5M1523.6 782.5v7.5M1524.3 781.0v7.5M1524.9 778.9v8.1M1526.0 777.6v8.1M1527.2 776.4v8.1M1528.4 776.3v6.8M1529.6 775.1v6.8M1530.8 775.3v6.8M1532.0 774.8v9.0M1533.2 776.0v9.0M1534.4 777.2v9.0M1535.8 778.7v6.1M1537.5 778.3v6.1M1539.1 777.9v6.1M1540.8 776.7v6.7M1542.2 775.9v6.7M1543.1 774.5v6.7M1544.0 772.9v8.4M1545.0 771.5v8.4M1545.9 770.0v8.4M1546.9 768.8v6.4M1547.8 767.4v6.4M1548.7 765.9v6.4M1549.6 764.1v8.9M1550.5 762.7v8.9M1551.4 761.2v8.9M1552.2 759.4v8.6M1553.1 757.9v8.6M1554.4 757.1v8.6M1556.1 757.7v5.7M1556.4 757.6v5.7M1572.1 742.7v7.0M1573.4 741.7v7.0M1574.8 740.7v7.0M1576.1 741.4v4.5M1577.5 740.3v4.5M1578.9 739.5v4.5M1580.6 738.0v5.9M1582.2 737.6v5.9M1583.9 737.3v5.9M1585.6 736.9v7.0M1587.2 736.4v7.0M1588.7 735.5v7.0M1590.1 733.3v7.6M1591.6 732.5v7.6M1593.0 731.6v7.6M1594.5 731.4v7.6M1595.8 730.3v7.6M1597.0 729.1v7.6M1598.2 729.9v4.6M1599.4 728.7v4.6M1600.6 727.5v4.6M1601.8 725.7v5.3M1603.0 724.5v5.3M1604.3 723.4v5.3M1605.6 721.1v7.3M1607.0 720.0v7.3M1608.3 719.0v7.3M1609.6 718.1v6.3M1610.9 717.0v6.3M1612.3 716.0v6.3M1613.8 716.2v6.7M1615.2 715.3v6.7M1616.7 714.5v6.7M1618.1 714.2v5.4M1619.6 713.4v5.4M1621.2 712.8v5.4M1622.8 711.6v7.7M1624.5 711.3v7.7M1626.2 710.9v7.7M1627.8 710.5v7.7M1629.2 709.7v7.7M1630.3 708.4v7.7M1631.4 705.1v7.8M1632.4 703.8v7.8M1633.5 702.5v7.8M1634.6 703.7v5.2M1635.7 702.4v5.2M1636.8 701.1v5.2M1638.1 698.9v6.1M1639.5 697.9v6.1M1640.8 696.9v6.1M1642.2 696.9v5.8M1643.6 695.9v5.8M1645.3 695.8v5.8M1647.0 696.1v4.8M1648.7 696.1v4.8M1650.4 696.1v4.8M1652.0 695.7v5.6M1653.7 695.3v5.6M1655.3 694.9v5.6M1657.0 692.9v7.0M1657.8 691.4v7.0M1658.6 689.9v7.0M1659.5 688.6v7.4M1660.3 687.1v7.4M1661.2 685.7v7.4M1662.0 683.6v6.6M1662.9 682.2v6.6M1663.7 680.7v6.6M1664.7 680.7v7.1M1665.7 679.4v7.1M1666.6 678.0v7.1M1667.6 676.8v7.0M1668.6 675.4v7.0M1669.5 674.0v7.0M1670.5 670.6v8.7M1671.5 669.3v8.7M1672.4 667.9v8.7M1673.4 667.5v7.1M1674.7 666.7v7.1M1676.4 666.3v7.1M1678.1 666.1v5.8M1679.7 665.8v5.8M1681.4 665.5v5.8M1683.0 664.8v6.2M1684.4 664.0v6.2M1685.9 663.1v6.2M1687.3 661.7v7.1M1688.8 660.9v7.1M1690.2 660.0v7.1M1691.7 660.3v4.9M1693.2 659.4v4.9M1694.6 658.6v4.9M1696.1 656.7v6.5M1697.5 655.8v6.5M1699.0 654.9v6.5M1700.4 655.6v5.8M1701.9 654.7v5.8M1703.4 653.8v5.8M1704.8 650.3v8.8M1706.3 649.4v8.8M1707.8 648.6v8.8M1709.4 650.5v6.7M1710.9 649.9v6.7M1712.5 649.3v6.7M1714.1 648.6v5.5M1715.6 647.9v5.5M1716.8 646.7v5.5M1718.1 643.2v7.5M1719.3 642.0v7.5M1720.5 640.8v7.5M1721.7 640.7v7.1M1722.9 639.5v7.1M1724.0 638.3v7.1M1725.0 636.3v7.5M1726.0 635.0v7.5M1727.0 633.6v7.5M1728.0 631.7v6.7M1729.0 630.3v6.7M1730.0 628.9v6.7M1731.0 628.2v7.2M1731.9 626.8v7.2M1733.2 625.6v7.2M1734.5 624.4v6.6M1735.8 623.4v6.6M1737.1 622.3v6.6M1738.5 621.1v8.4M1739.8 620.1v8.4M1741.1 619.0v8.4M1742.4 619.7v6.8M1743.8 618.6v6.8M1745.1 617.6v6.8M1746.4 614.4v8.8M1747.8 613.4v8.8M1749.1 612.4v8.8M1750.7 613.9v5.1M1752.3 613.3v5.1M1753.8 612.6v5.1M1755.4 611.4v7.4M1757.0 610.8v7.4M1758.3 609.7v7.4M1759.5 606.8v6.7M1760.7 605.6v6.7M1761.9 604.4v6.7M1763.1 604.1v8.6M1764.3 602.9v8.6M1765.5 601.7v8.6M1766.8 601.0v7.6M1768.1 600.0v7.6M1769.5 598.9v7.6M1770.8 596.4v8.9M1772.1 595.4v8.9M1773.4 594.3v8.9M1774.8 593.8v6.3M1776.3 593.0v6.3M1777.8 592.1v6.3M1779.2 592.2v5.9M1780.7 591.3v5.9M1782.1 590.5v5.9M1783.3 590.3v6.3M1784.4 589.0v6.3M1785.5 587.7v6.3M1786.5 584.7v8.2M1787.6 583.4v8.2M1788.7 582.1v8.2M1789.8 581.9v5.7M1790.9 580.6v5.7M1792.1 579.4v5.7M1793.3 576.9v7.8M1794.5 575.7v7.8M1795.7 574.5v7.8M1796.9 572.7v7.9M1798.1 571.5v7.9M1799.4 570.4v7.9M1800.7 569.7v6.5M1802.1 568.7v6.5M1803.4 567.6v6.5M1804.8 567.7v6.7M1806.2 566.8v6.7M1807.9 566.3v6.7M1809.5 566.1v7.6M1810.8 566.1v7.6M1810.9 567.8v7.6M1811.1 568.1v9.1M1811.3 569.7v9.1" stroke="#ff0000" stroke-width="6.4" stroke-linecap="round" fill="none"/>
<rect x="1058.3" y="60.5" width="743.3" height="186.9" fill="#fff" stroke="#262626" stroke-width="7"/>
<circle cx="1105.8" cy="93.9" r="3.3" fill="#0000ff"/>
<text transform="translate(1152.3 112.6) scale(0.979 1)" font-size="48.3" fill="#000">1-minute moving average-B1C</text>
<circle cx="1105.8" cy="153.9" r="3.3" fill="#00ff00"/>
<text transform="translate(1152.3 172.6) scale(0.979 1)" font-size="48.3" fill="#000">5-minute moving average-B1C</text>
<circle cx="1105.8" cy="213.9" r="3.3" fill="#ff0000"/>
<text transform="translate(1152.3 232.6) scale(0.979 1)" font-size="48.3" fill="#000">radar altimeter</text>
</svg>
</body></html>
